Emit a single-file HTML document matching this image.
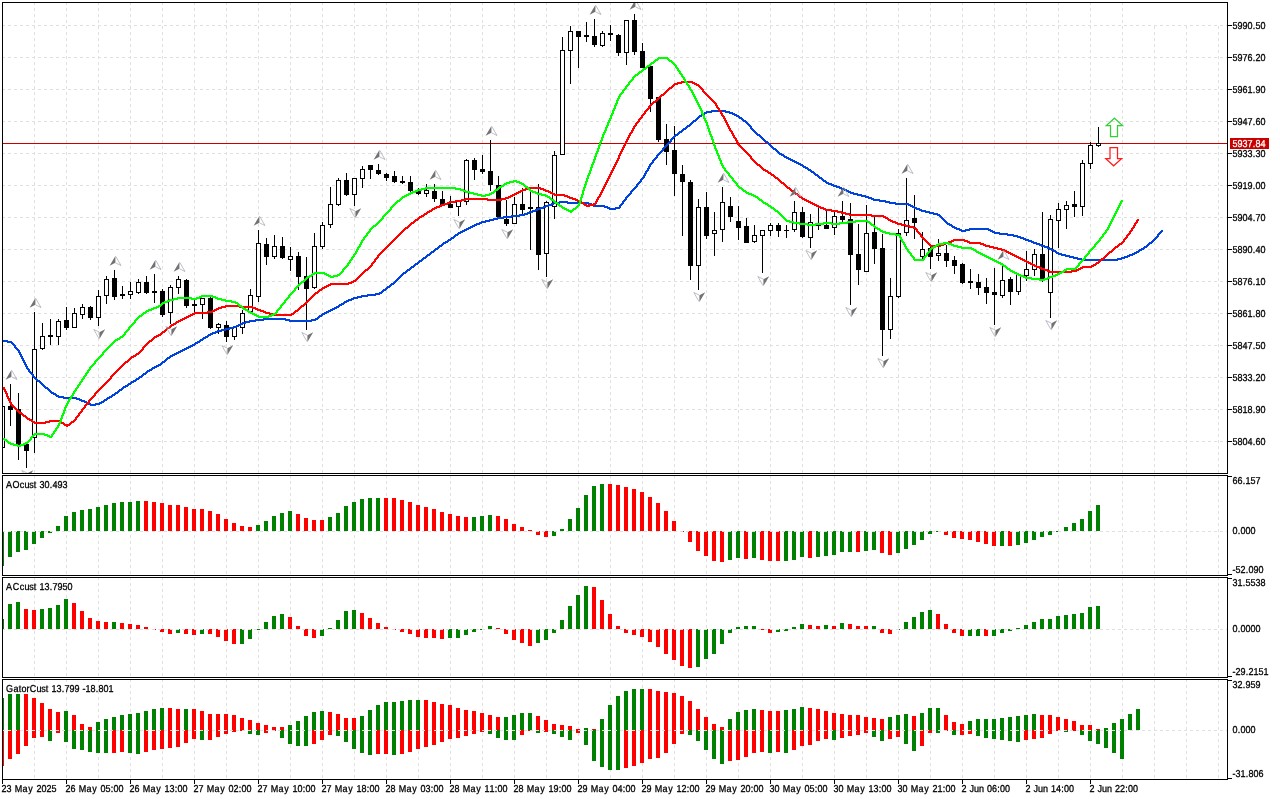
<!DOCTYPE html>
<html lang="en"><head><meta charset="utf-8"><title>Chart</title>
<style>html,body{margin:0;padding:0;background:#fff;overflow:hidden}svg{display:block}text{font-family:"Liberation Sans",sans-serif;font-size:10px;text-rendering:geometricPrecision}</style>
</head><body>
<svg width="1280" height="800" viewBox="0 0 1280 800" shape-rendering="crispEdges">
<rect x="0" y="0" width="1280" height="800" fill="#fff"/>
<defs>
<clipPath id="cpm"><rect x="3" y="3" width="1224" height="470"/></clipPath>
<clipPath id="cpa"><rect x="3" y="476" width="1224" height="99"/></clipPath>
<clipPath id="cpb"><rect x="3" y="578" width="1224" height="99"/></clipPath>
<clipPath id="cpc"><rect x="3" y="680" width="1224" height="99"/></clipPath>
</defs>
<g id="grid"><path d="M34.5 2V473M66.5 2V473M98.5 2V473M130.5 2V473M162.5 2V473M194.5 2V473M226.5 2V473M258.5 2V473M290.5 2V473M322.5 2V473M354.5 2V473M386.5 2V473M418.5 2V473M450.5 2V473M482.5 2V473M514.5 2V473M546.5 2V473M578.5 2V473M610.5 2V473M642.5 2V473M674.5 2V473M706.5 2V473M738.5 2V473M770.5 2V473M802.5 2V473M834.5 2V473M866.5 2V473M898.5 2V473M930.5 2V473M962.5 2V473M994.5 2V473M1026.5 2V473M1058.5 2V473M1090.5 2V473M1122.5 2V473M1154.5 26V473M1186.5 26V473M1218.5 26V473" stroke="#e0e0e0" stroke-width="1" stroke-dasharray="3 3" fill="none"/><path d="M34.5 475V575M66.5 475V575M98.5 475V575M130.5 475V575M162.5 475V575M194.5 475V575M226.5 475V575M258.5 475V575M290.5 475V575M322.5 475V575M354.5 475V575M386.5 475V575M418.5 475V575M450.5 475V575M482.5 475V575M514.5 475V575M546.5 475V575M578.5 475V575M610.5 475V575M642.5 475V575M674.5 475V575M706.5 475V575M738.5 475V575M770.5 475V575M802.5 475V575M834.5 475V575M866.5 475V575M898.5 475V575M930.5 475V575M962.5 475V575M994.5 475V575M1026.5 475V575M1058.5 475V575M1090.5 475V575M1122.5 475V575M1154.5 475V575M1186.5 475V575M1218.5 475V575" stroke="#e0e0e0" stroke-width="1" stroke-dasharray="3 3" fill="none"/><path d="M34.5 577V677M66.5 577V677M98.5 577V677M130.5 577V677M162.5 577V677M194.5 577V677M226.5 577V677M258.5 577V677M290.5 577V677M322.5 577V677M354.5 577V677M386.5 577V677M418.5 577V677M450.5 577V677M482.5 577V677M514.5 577V677M546.5 577V677M578.5 577V677M610.5 577V677M642.5 577V677M674.5 577V677M706.5 577V677M738.5 577V677M770.5 577V677M802.5 577V677M834.5 577V677M866.5 577V677M898.5 577V677M930.5 577V677M962.5 577V677M994.5 577V677M1026.5 577V677M1058.5 577V677M1090.5 577V677M1122.5 577V677M1154.5 577V677M1186.5 577V677M1218.5 577V677" stroke="#e0e0e0" stroke-width="1" stroke-dasharray="3 3" fill="none"/><path d="M34.5 679V779M66.5 679V779M98.5 679V779M130.5 679V779M162.5 679V779M194.5 679V779M226.5 679V779M258.5 679V779M290.5 679V779M322.5 679V779M354.5 679V779M386.5 679V779M418.5 679V779M450.5 679V779M482.5 679V779M514.5 679V779M546.5 679V779M578.5 679V779M610.5 679V779M642.5 679V779M674.5 679V779M706.5 679V779M738.5 679V779M770.5 679V779M802.5 679V779M834.5 679V779M866.5 679V779M898.5 679V779M930.5 679V779M962.5 679V779M994.5 679V779M1026.5 679V779M1058.5 679V779M1090.5 679V779M1122.5 679V779M1154.5 679V779M1186.5 679V779M1218.5 679V779" stroke="#e0e0e0" stroke-width="1" stroke-dasharray="3 3" fill="none"/><path d="M2 25.5H1227M2 57.5H1227M2 89.5H1227M2 121.5H1227M2 153.5H1227M2 185.5H1227M2 217.5H1227M2 249.5H1227M2 281.5H1227M2 313.5H1227M2 345.5H1227M2 377.5H1227M2 409.5H1227M2 441.5H1227" stroke="#e0e0e0" stroke-width="1" stroke-dasharray="3 3" fill="none"/></g>
<rect x="3" y="143" width="1224" height="1" fill="#c80000"/>
<g id="candles" clip-path="url(#cpm)">
<path d="M2 406h1V448h-1zM10 384h1V426h-1zM18 393h1V460h-1zM26 444h1V468h-1zM34 312h1V453h-1zM42 323h1V350h-1zM50 319h1V345h-1zM58 319h1V345h-1zM66 307h1V330h-1zM74 308h1V328h-1zM82 304h1V319h-1zM90 306h1V320h-1zM98 290h1V326h-1zM106 276h1V304h-1zM114 270h1V300h-1zM122 286h1V299h-1zM130 282h1V299h-1zM138 279h1V294h-1zM146 276h1V294h-1zM154 274h1V303h-1zM162 289h1V317h-1zM170 285h1V324h-1zM178 276h1V294h-1zM186 279h1V308h-1zM194 300h1V313h-1zM202 298h1V319h-1zM210 297h1V329h-1zM218 323h1V334h-1zM226 321h1V342h-1zM234 327h1V340h-1zM242 310h1V334h-1zM250 289h1V312h-1zM258 230h1V302h-1zM266 238h1V265h-1zM274 235h1V259h-1zM282 237h1V259h-1zM290 247h1V271h-1zM298 252h1V290h-1zM306 257h1V330h-1zM314 233h1V289h-1zM322 222h1V249h-1zM330 187h1V228h-1zM338 178h1V206h-1zM346 173h1V196h-1zM354 178h1V206h-1zM362 166h1V188h-1zM370 165h1V179h-1zM378 164h1V175h-1zM386 173h1V181h-1zM394 171h1V183h-1zM402 176h1V184h-1zM410 176h1V192h-1zM418 188h1V195h-1zM426 184h1V197h-1zM434 184h1V202h-1zM442 191h1V205h-1zM450 196h1V208h-1zM458 201h1V216h-1zM466 159h1V205h-1zM474 158h1V180h-1zM482 155h1V174h-1zM490 140h1V191h-1zM498 176h1V217h-1zM506 200h1V226h-1zM514 197h1V224h-1zM522 188h1V214h-1zM530 192h1V250h-1zM538 184h1V270h-1zM546 201h1V277h-1zM554 151h1V219h-1zM562 37h1V155h-1zM570 26h1V84h-1zM578 31h1V68h-1zM586 22h1V42h-1zM594 19h1V47h-1zM602 31h1V47h-1zM610 25h1V41h-1zM618 34h1V56h-1zM626 20h1V65h-1zM634 14h1V55h-1zM642 43h1V68h-1zM650 66h1V112h-1zM658 97h1V142h-1zM666 124h1V165h-1zM674 126h1V196h-1zM682 165h1V236h-1zM690 180h1V280h-1zM698 199h1V290h-1zM706 192h1V239h-1zM714 212h1V256h-1zM722 187h1V242h-1zM730 197h1V222h-1zM738 206h1V240h-1zM746 218h1V243h-1zM754 225h1V243h-1zM762 230h1V273h-1zM770 223h1V236h-1zM778 223h1V237h-1zM786 225h1V238h-1zM794 201h1V232h-1zM802 207h1V238h-1zM810 214h1V248h-1zM818 208h1V230h-1zM826 211h1V229h-1zM834 212h1V235h-1zM842 201h1V222h-1zM850 203h1V305h-1zM858 224h1V285h-1zM866 205h1V272h-1zM874 217h1V264h-1zM882 234h1V356h-1zM890 278h1V339h-1zM898 229h1V298h-1zM906 178h1V236h-1zM914 195h1V239h-1zM922 232h1V259h-1zM930 246h1V269h-1zM938 239h1V261h-1zM946 245h1V267h-1zM954 256h1V274h-1zM962 263h1V284h-1zM970 269h1V289h-1zM978 274h1V295h-1zM986 278h1V304h-1zM994 268h1V325h-1zM1002 264h1V298h-1zM1010 277h1V305h-1zM1018 273h1V295h-1zM1026 251h1V281h-1zM1034 249h1V276h-1zM1042 212h1V282h-1zM1050 215h1V318h-1zM1058 203h1V248h-1zM1066 201h1V229h-1zM1074 191h1V217h-1zM1082 160h1V216h-1zM1090 142h1V169h-1zM1098 127h1V147h-1z" fill="#000"/>
<path d="M0 406h5V448h-5zM8 406h5V410h-5zM16 409h5V445h-5zM24 444h5V451h-5zM32 349h5V438h-5zM40 336h5V349h-5zM48 335h5V337h-5zM56 321h5V337h-5zM64 320h5V328h-5zM72 313h5V328h-5zM80 307h5V315h-5zM88 307h5V318h-5zM96 296h5V318h-5zM104 279h5V296h-5zM112 278h5V297h-5zM120 294h5V296h-5zM128 291h5V295h-5zM136 282h5V293h-5zM144 282h5V293h-5zM152 291h5V293h-5zM160 291h5V315h-5zM168 287h5V313h-5zM176 279h5V288h-5zM184 280h5V306h-5zM192 304h5V306h-5zM200 298h5V305h-5zM208 298h5V328h-5zM216 324h5V328h-5zM224 325h5V337h-5zM232 327h5V337h-5zM240 313h5V328h-5zM248 295h5V312h-5zM256 243h5V297h-5zM264 244h5V257h-5zM272 246h5V257h-5zM280 246h5V258h-5zM288 256h5V260h-5zM296 256h5V277h-5zM304 276h5V289h-5zM312 246h5V288h-5zM320 225h5V247h-5zM328 204h5V225h-5zM336 180h5V205h-5zM344 180h5V195h-5zM352 178h5V195h-5zM360 169h5V179h-5zM368 165h5V170h-5zM376 170h5V174h-5zM384 174h5V178h-5zM392 176h5V182h-5zM400 181h5V183h-5zM408 182h5V191h-5zM416 191h5V194h-5zM424 190h5V194h-5zM432 191h5V199h-5zM440 199h5V205h-5zM448 204h5V208h-5zM456 201h5V207h-5zM464 160h5V202h-5zM472 160h5V170h-5zM480 169h5V172h-5zM488 171h5V185h-5zM496 185h5V217h-5zM504 219h5V224h-5zM512 204h5V224h-5zM520 204h5V210h-5zM528 207h5V209h-5zM536 207h5V255h-5zM544 202h5V254h-5zM552 155h5V207h-5zM560 50h5V155h-5zM568 31h5V51h-5zM576 31h5V37h-5zM584 35h5V37h-5zM592 36h5V45h-5zM600 33h5V46h-5zM608 33h5V35h-5zM616 35h5V53h-5zM624 20h5V53h-5zM632 20h5V52h-5zM640 51h5V68h-5zM648 66h5V99h-5zM656 97h5V140h-5zM664 139h5V152h-5zM672 150h5V174h-5zM680 174h5V182h-5zM688 182h5V266h-5zM696 207h5V266h-5zM704 207h5V236h-5zM712 230h5V234h-5zM720 202h5V230h-5zM728 206h5V217h-5zM736 221h5V228h-5zM744 226h5V243h-5zM752 235h5V242h-5zM760 230h5V236h-5zM768 225h5V231h-5zM776 225h5V231h-5zM784 230h5V231h-5zM792 212h5V230h-5zM800 212h5V237h-5zM808 222h5V238h-5zM816 224h5V226h-5zM824 225h5V229h-5zM832 216h5V228h-5zM840 216h5V220h-5zM848 219h5V255h-5zM856 254h5V270h-5zM864 233h5V272h-5zM872 232h5V249h-5zM880 248h5V330h-5zM888 296h5V330h-5zM896 233h5V297h-5zM904 220h5V233h-5zM912 218h5V223h-5zM920 249h5V257h-5zM928 248h5V257h-5zM936 253h5V256h-5zM944 253h5V261h-5zM952 260h5V266h-5zM960 264h5V283h-5zM968 281h5V283h-5zM976 282h5V288h-5zM984 287h5V293h-5zM992 292h5V295h-5zM1000 280h5V296h-5zM1008 279h5V292h-5zM1016 274h5V292h-5zM1024 269h5V276h-5zM1032 254h5V270h-5zM1040 254h5V279h-5zM1048 219h5V293h-5zM1056 209h5V221h-5zM1064 205h5V210h-5zM1072 204h5V207h-5zM1080 163h5V207h-5zM1088 145h5V164h-5zM1096 143h5V146h-5z" fill="#000"/>
<path d="M1 407h3V447h-3zM33 350h3V437h-3zM41 337h3V348h-3zM57 322h3V336h-3zM73 314h3V327h-3zM81 308h3V314h-3zM97 297h3V317h-3zM105 280h3V295h-3zM129 292h3V294h-3zM137 283h3V292h-3zM169 288h3V312h-3zM177 280h3V287h-3zM201 299h3V304h-3zM217 325h3V327h-3zM233 328h3V336h-3zM241 314h3V327h-3zM249 296h3V311h-3zM257 244h3V296h-3zM273 247h3V256h-3zM289 257h3V259h-3zM313 247h3V287h-3zM321 226h3V246h-3zM329 205h3V224h-3zM337 181h3V204h-3zM353 179h3V194h-3zM361 170h3V178h-3zM425 191h3V193h-3zM457 202h3V206h-3zM465 161h3V201h-3zM513 205h3V223h-3zM545 203h3V253h-3zM553 156h3V206h-3zM561 51h3V154h-3zM569 32h3V50h-3zM601 34h3V45h-3zM625 21h3V52h-3zM697 208h3V265h-3zM713 231h3V233h-3zM721 203h3V229h-3zM753 236h3V241h-3zM761 231h3V235h-3zM769 226h3V230h-3zM793 213h3V229h-3zM809 223h3V237h-3zM833 217h3V227h-3zM865 234h3V271h-3zM889 297h3V329h-3zM897 234h3V296h-3zM905 221h3V232h-3zM921 250h3V256h-3zM937 254h3V255h-3zM1001 281h3V295h-3zM1017 275h3V291h-3zM1025 270h3V275h-3zM1033 255h3V269h-3zM1049 220h3V292h-3zM1057 210h3V220h-3zM1065 206h3V209h-3zM1081 164h3V206h-3zM1089 146h3V163h-3zM1097 144h3V145h-3z" fill="#fff"/>
</g>
<g id="alligator" clip-path="url(#cpm)">
<path d="M711 110h15v1h-15zM706 111h24v1h-24zM704 112h8v1h-8zM725 112h8v1h-8zM703 113h4v1h-4zM729 113h6v1h-6zM701 114h4v1h-4zM732 114h5v1h-5zM699 115h5v1h-5zM734 115h5v1h-5zM698 116h4v1h-4zM736 116h4v1h-4zM697 117h3v1h-3zM738 117h4v1h-4zM696 118h3v1h-3zM739 118h4v1h-4zM695 119h3v1h-3zM741 119h3v1h-3zM693 120h4v1h-4zM742 120h4v1h-4zM692 121h4v1h-4zM743 121h4v1h-4zM691 122h3v1h-3zM745 122h3v1h-3zM690 123h3v1h-3zM746 123h3v1h-3zM689 124h3v1h-3zM747 124h3v1h-3zM687 125h4v1h-4zM748 125h3v1h-3zM686 126h4v1h-4zM749 126h3v1h-3zM685 127h3v1h-3zM750 127h2v1h-2zM683 128h4v1h-4zM750 128h3v1h-3zM682 129h4v1h-4zM751 129h3v1h-3zM681 130h3v1h-3zM752 130h3v1h-3zM679 131h4v1h-4zM753 131h3v1h-3zM678 132h4v1h-4zM754 132h3v1h-3zM677 133h3v1h-3zM755 133h3v1h-3zM675 134h4v1h-4zM756 134h4v1h-4zM674 135h4v1h-4zM757 135h4v1h-4zM673 136h3v1h-3zM759 136h3v1h-3zM672 137h3v1h-3zM760 137h3v1h-3zM671 138h3v1h-3zM761 138h3v1h-3zM670 139h3v1h-3zM762 139h3v1h-3zM670 140h2v1h-2zM763 140h3v1h-3zM669 141h3v1h-3zM764 141h4v1h-4zM668 142h3v1h-3zM765 142h4v1h-4zM667 143h3v1h-3zM767 143h3v1h-3zM666 144h3v1h-3zM768 144h3v1h-3zM665 145h3v1h-3zM769 145h3v1h-3zM664 146h3v1h-3zM770 146h3v1h-3zM663 147h3v1h-3zM771 147h3v1h-3zM662 148h3v1h-3zM772 148h4v1h-4zM662 149h2v1h-2zM773 149h4v1h-4zM661 150h3v1h-3zM775 150h3v1h-3zM660 151h3v1h-3zM776 151h3v1h-3zM659 152h3v1h-3zM777 152h3v1h-3zM658 153h3v1h-3zM778 153h4v1h-4zM657 154h3v1h-3zM779 154h5v1h-5zM656 155h3v1h-3zM781 155h4v1h-4zM656 156h2v1h-2zM783 156h4v1h-4zM655 157h3v1h-3zM784 157h5v1h-5zM654 158h3v1h-3zM786 158h5v1h-5zM653 159h3v1h-3zM788 159h5v1h-5zM652 160h3v1h-3zM790 160h5v1h-5zM652 161h2v1h-2zM792 161h5v1h-5zM651 162h3v1h-3zM794 162h5v1h-5zM650 163h3v1h-3zM796 163h5v1h-5zM649 164h3v1h-3zM798 164h5v1h-5zM649 165h2v1h-2zM800 165h4v1h-4zM648 166h3v1h-3zM802 166h4v1h-4zM648 167h2v1h-2zM803 167h5v1h-5zM647 168h3v1h-3zM805 168h4v1h-4zM647 169h2v1h-2zM807 169h4v1h-4zM646 170h3v1h-3zM808 170h4v1h-4zM645 171h3v1h-3zM810 171h4v1h-4zM645 172h2v1h-2zM811 172h4v1h-4zM644 173h3v1h-3zM813 173h3v1h-3zM644 174h2v1h-2zM814 174h4v1h-4zM643 175h3v1h-3zM815 175h4v1h-4zM643 176h2v1h-2zM817 176h3v1h-3zM642 177h3v1h-3zM818 177h4v1h-4zM641 178h3v1h-3zM819 178h4v1h-4zM640 179h3v1h-3zM821 179h3v1h-3zM640 180h2v1h-2zM822 180h4v1h-4zM639 181h3v1h-3zM823 181h4v1h-4zM638 182h3v1h-3zM825 182h4v1h-4zM637 183h3v1h-3zM826 183h6v1h-6zM636 184h3v1h-3zM828 184h6v1h-6zM636 185h2v1h-2zM831 185h6v1h-6zM635 186h3v1h-3zM833 186h7v1h-7zM634 187h3v1h-3zM836 187h6v1h-6zM633 188h3v1h-3zM839 188h6v1h-6zM632 189h3v1h-3zM841 189h6v1h-6zM631 190h3v1h-3zM844 190h5v1h-5zM630 191h3v1h-3zM846 191h5v1h-5zM630 192h2v1h-2zM848 192h6v1h-6zM629 193h3v1h-3zM850 193h8v1h-8zM628 194h3v1h-3zM853 194h9v1h-9zM627 195h3v1h-3zM857 195h9v1h-9zM626 196h3v1h-3zM861 196h8v1h-8zM625 197h3v1h-3zM865 197h7v1h-7zM625 198h2v1h-2zM868 198h6v1h-6zM624 199h3v1h-3zM871 199h9v1h-9zM623 200h3v1h-3zM873 200h13v1h-13zM559 201h9v1h-9zM622 201h3v1h-3zM879 201h11v1h-11zM553 202h36v1h-36zM622 202h2v1h-2zM885 202h11v1h-11zM551 203h9v1h-9zM567 203h25v1h-25zM621 203h3v1h-3zM889 203h20v1h-20zM548 204h6v1h-6zM588 204h6v1h-6zM620 204h3v1h-3zM895 204h16v1h-16zM545 205h7v1h-7zM591 205h14v1h-14zM619 205h3v1h-3zM908 205h5v1h-5zM543 206h6v1h-6zM593 206h15v1h-15zM619 206h2v1h-2zM910 206h5v1h-5zM540 207h6v1h-6zM604 207h6v1h-6zM615 207h6v1h-6zM912 207h5v1h-5zM537 208h7v1h-7zM607 208h13v1h-13zM914 208h6v1h-6zM535 209h6v1h-6zM609 209h7v1h-7zM916 209h6v1h-6zM532 210h6v1h-6zM919 210h7v1h-7zM529 211h7v1h-7zM921 211h9v1h-9zM527 212h6v1h-6zM925 212h9v1h-9zM524 213h6v1h-6zM929 213h9v1h-9zM519 214h9v1h-9zM933 214h7v1h-7zM511 215h14v1h-14zM937 215h4v1h-4zM503 216h17v1h-17zM939 216h3v1h-3zM497 217h15v1h-15zM940 217h3v1h-3zM493 218h11v1h-11zM941 218h3v1h-3zM489 219h9v1h-9zM942 219h3v1h-3zM485 220h9v1h-9zM943 220h3v1h-3zM481 221h9v1h-9zM944 221h3v1h-3zM479 222h7v1h-7zM945 222h3v1h-3zM476 223h6v1h-6zM946 223h4v1h-4zM474 224h6v1h-6zM947 224h5v1h-5zM472 225h5v1h-5zM949 225h4v1h-4zM470 226h5v1h-5zM951 226h4v1h-4zM468 227h5v1h-5zM952 227h5v1h-5zM466 228h5v1h-5zM954 228h6v1h-6zM969 228h20v1h-20zM464 229h5v1h-5zM956 229h6v1h-6zM965 229h26v1h-26zM462 230h5v1h-5zM959 230h11v1h-11zM988 230h5v1h-5zM1161 230h2v1h-2zM460 231h5v1h-5zM961 231h5v1h-5zM990 231h5v1h-5zM1160 231h3v1h-3zM458 232h5v1h-5zM992 232h8v1h-8zM1159 232h3v1h-3zM457 233h4v1h-4zM994 233h14v1h-14zM1158 233h3v1h-3zM455 234h4v1h-4zM999 234h15v1h-15zM1157 234h3v1h-3zM454 235h4v1h-4zM1007 235h11v1h-11zM1157 235h2v1h-2zM453 236h3v1h-3zM1013 236h8v1h-8zM1156 236h3v1h-3zM451 237h4v1h-4zM1017 237h7v1h-7zM1155 237h3v1h-3zM450 238h4v1h-4zM1020 238h6v1h-6zM1154 238h3v1h-3zM448 239h4v1h-4zM1023 239h6v1h-6zM1153 239h3v1h-3zM447 240h4v1h-4zM1025 240h7v1h-7zM1152 240h3v1h-3zM445 241h4v1h-4zM1028 241h6v1h-6zM1151 241h3v1h-3zM443 242h5v1h-5zM1031 242h6v1h-6zM1149 242h4v1h-4zM442 243h4v1h-4zM1033 243h7v1h-7zM1148 243h4v1h-4zM441 244h3v1h-3zM1036 244h6v1h-6zM1147 244h3v1h-3zM439 245h4v1h-4zM1039 245h6v1h-6zM1146 245h3v1h-3zM438 246h4v1h-4zM1041 246h7v1h-7zM1144 246h4v1h-4zM437 247h3v1h-3zM1044 247h6v1h-6zM1143 247h4v1h-4zM435 248h4v1h-4zM1047 248h5v1h-5zM1141 248h4v1h-4zM434 249h4v1h-4zM1049 249h5v1h-5zM1139 249h5v1h-5zM433 250h3v1h-3zM1051 250h5v1h-5zM1138 250h4v1h-4zM431 251h4v1h-4zM1053 251h4v1h-4zM1136 251h4v1h-4zM430 252h4v1h-4zM1055 252h4v1h-4zM1134 252h5v1h-5zM429 253h3v1h-3zM1056 253h6v1h-6zM1132 253h5v1h-5zM427 254h4v1h-4zM1058 254h8v1h-8zM1129 254h6v1h-6zM426 255h4v1h-4zM1061 255h9v1h-9zM1127 255h6v1h-6zM425 256h3v1h-3zM1065 256h9v1h-9zM1124 256h6v1h-6zM423 257h4v1h-4zM1069 257h9v1h-9zM1121 257h7v1h-7zM422 258h4v1h-4zM1073 258h9v1h-9zM1117 258h8v1h-8zM421 259h3v1h-3zM1077 259h45v1h-45zM419 260h4v1h-4zM1081 260h37v1h-37zM418 261h4v1h-4zM417 262h3v1h-3zM415 263h4v1h-4zM414 264h4v1h-4zM413 265h3v1h-3zM411 266h4v1h-4zM410 267h4v1h-4zM409 268h3v1h-3zM407 269h4v1h-4zM406 270h4v1h-4zM405 271h3v1h-3zM403 272h4v1h-4zM402 273h4v1h-4zM401 274h3v1h-3zM400 275h3v1h-3zM399 276h3v1h-3zM398 277h3v1h-3zM397 278h3v1h-3zM396 279h3v1h-3zM395 280h3v1h-3zM394 281h3v1h-3zM393 282h3v1h-3zM391 283h4v1h-4zM390 284h4v1h-4zM389 285h3v1h-3zM387 286h4v1h-4zM386 287h4v1h-4zM385 288h3v1h-3zM383 289h4v1h-4zM382 290h4v1h-4zM381 291h3v1h-3zM379 292h4v1h-4zM375 293h7v1h-7zM367 294h13v1h-13zM361 295h15v1h-15zM357 296h11v1h-11zM353 297h9v1h-9zM351 298h7v1h-7zM348 299h6v1h-6zM346 300h6v1h-6zM344 301h5v1h-5zM343 302h4v1h-4zM341 303h4v1h-4zM339 304h5v1h-5zM338 305h4v1h-4zM336 306h4v1h-4zM334 307h5v1h-5zM332 308h5v1h-5zM330 309h5v1h-5zM328 310h5v1h-5zM326 311h5v1h-5zM324 312h5v1h-5zM322 313h5v1h-5zM321 314h4v1h-4zM319 315h4v1h-4zM318 316h4v1h-4zM317 317h3v1h-3zM263 318h23v1h-23zM315 318h4v1h-4zM255 319h35v1h-35zM311 319h7v1h-7zM249 320h15v1h-15zM285 320h31v1h-31zM245 321h11v1h-11zM289 321h23v1h-23zM242 322h8v1h-8zM240 323h6v1h-6zM238 324h5v1h-5zM236 325h5v1h-5zM233 326h6v1h-6zM229 327h8v1h-8zM225 328h9v1h-9zM221 329h9v1h-9zM217 330h9v1h-9zM215 331h7v1h-7zM212 332h6v1h-6zM210 333h6v1h-6zM208 334h5v1h-5zM207 335h4v1h-4zM205 336h4v1h-4zM203 337h5v1h-5zM202 338h4v1h-4zM200 339h4v1h-4zM3 340h5v1h-5zM199 340h4v1h-4zM3 341h9v1h-9zM197 341h4v1h-4zM7 342h6v1h-6zM195 342h5v1h-5zM11 343h3v1h-3zM194 343h4v1h-4zM12 344h3v1h-3zM192 344h4v1h-4zM13 345h3v1h-3zM190 345h5v1h-5zM14 346h2v1h-2zM188 346h5v1h-5zM14 347h3v1h-3zM186 347h5v1h-5zM15 348h3v1h-3zM184 348h5v1h-5zM16 349h3v1h-3zM182 349h5v1h-5zM17 350h3v1h-3zM180 350h5v1h-5zM18 351h2v1h-2zM178 351h5v1h-5zM18 352h3v1h-3zM176 352h5v1h-5zM19 353h2v1h-2zM174 353h5v1h-5zM19 354h3v1h-3zM172 354h5v1h-5zM20 355h2v1h-2zM170 355h5v1h-5zM20 356h3v1h-3zM169 356h4v1h-4zM21 357h2v1h-2zM167 357h4v1h-4zM21 358h3v1h-3zM166 358h4v1h-4zM22 359h2v1h-2zM165 359h3v1h-3zM22 360h3v1h-3zM164 360h3v1h-3zM23 361h2v1h-2zM162 361h4v1h-4zM23 362h3v1h-3zM161 362h4v1h-4zM24 363h2v1h-2zM160 363h3v1h-3zM24 364h3v1h-3zM158 364h4v1h-4zM25 365h2v1h-2zM156 365h5v1h-5zM25 366h3v1h-3zM154 366h5v1h-5zM26 367h2v1h-2zM152 367h5v1h-5zM26 368h3v1h-3zM151 368h4v1h-4zM27 369h3v1h-3zM149 369h4v1h-4zM28 370h2v1h-2zM147 370h5v1h-5zM28 371h3v1h-3zM146 371h4v1h-4zM29 372h3v1h-3zM145 372h3v1h-3zM30 373h3v1h-3zM143 373h4v1h-4zM31 374h3v1h-3zM142 374h4v1h-4zM32 375h2v1h-2zM141 375h3v1h-3zM32 376h3v1h-3zM139 376h4v1h-4zM33 377h3v1h-3zM138 377h4v1h-4zM34 378h3v1h-3zM136 378h4v1h-4zM35 379h3v1h-3zM135 379h4v1h-4zM36 380h4v1h-4zM133 380h4v1h-4zM37 381h4v1h-4zM131 381h5v1h-5zM39 382h3v1h-3zM130 382h4v1h-4zM40 383h3v1h-3zM128 383h4v1h-4zM41 384h3v1h-3zM127 384h4v1h-4zM42 385h3v1h-3zM125 385h4v1h-4zM43 386h3v1h-3zM123 386h5v1h-5zM44 387h4v1h-4zM122 387h4v1h-4zM45 388h4v1h-4zM121 388h3v1h-3zM47 389h3v1h-3zM119 389h4v1h-4zM48 390h3v1h-3zM118 390h4v1h-4zM49 391h3v1h-3zM117 391h3v1h-3zM50 392h4v1h-4zM115 392h4v1h-4zM51 393h5v1h-5zM114 393h4v1h-4zM53 394h4v1h-4zM112 394h4v1h-4zM55 395h4v1h-4zM111 395h4v1h-4zM56 396h8v1h-8zM109 396h4v1h-4zM58 397h19v1h-19zM107 397h5v1h-5zM63 398h17v1h-17zM106 398h4v1h-4zM76 399h6v1h-6zM104 399h4v1h-4zM79 400h6v1h-6zM103 400h4v1h-4zM81 401h6v1h-6zM101 401h4v1h-4zM84 402h5v1h-5zM99 402h5v1h-5zM86 403h5v1h-5zM95 403h7v1h-7zM88 404h12v1h-12zM90 405h6v1h-6z" fill="#0042dc"/>
<path d="M681 81h12v1h-12zM677 82h18v1h-18zM674 83h8v1h-8zM692 83h5v1h-5zM673 84h5v1h-5zM694 84h5v1h-5zM672 85h3v1h-3zM696 85h4v1h-4zM671 86h3v1h-3zM698 86h3v1h-3zM669 87h4v1h-4zM699 87h3v1h-3zM668 88h4v1h-4zM700 88h3v1h-3zM667 89h3v1h-3zM701 89h3v1h-3zM666 90h3v1h-3zM702 90h2v1h-2zM665 91h3v1h-3zM702 91h3v1h-3zM664 92h3v1h-3zM703 92h3v1h-3zM663 93h3v1h-3zM704 93h3v1h-3zM661 94h4v1h-4zM705 94h3v1h-3zM660 95h4v1h-4zM706 95h3v1h-3zM659 96h3v1h-3zM707 96h3v1h-3zM658 97h3v1h-3zM708 97h3v1h-3zM657 98h3v1h-3zM709 98h3v1h-3zM656 99h3v1h-3zM710 99h3v1h-3zM655 100h3v1h-3zM711 100h3v1h-3zM653 101h4v1h-4zM712 101h3v1h-3zM652 102h4v1h-4zM713 102h3v1h-3zM651 103h3v1h-3zM714 103h3v1h-3zM650 104h3v1h-3zM715 104h2v1h-2zM649 105h3v1h-3zM715 105h3v1h-3zM648 106h3v1h-3zM716 106h2v1h-2zM648 107h2v1h-2zM716 107h3v1h-3zM647 108h3v1h-3zM717 108h3v1h-3zM646 109h3v1h-3zM718 109h2v1h-2zM645 110h3v1h-3zM718 110h3v1h-3zM644 111h3v1h-3zM719 111h3v1h-3zM644 112h2v1h-2zM720 112h2v1h-2zM643 113h3v1h-3zM720 113h3v1h-3zM642 114h3v1h-3zM721 114h2v1h-2zM641 115h3v1h-3zM721 115h3v1h-3zM641 116h2v1h-2zM722 116h3v1h-3zM640 117h3v1h-3zM723 117h2v1h-2zM639 118h3v1h-3zM723 118h3v1h-3zM638 119h3v1h-3zM724 119h2v1h-2zM638 120h2v1h-2zM724 120h3v1h-3zM637 121h3v1h-3zM725 121h2v1h-2zM636 122h3v1h-3zM725 122h3v1h-3zM635 123h3v1h-3zM726 123h2v1h-2zM635 124h2v1h-2zM726 124h3v1h-3zM634 125h3v1h-3zM727 125h2v1h-2zM633 126h3v1h-3zM727 126h3v1h-3zM633 127h2v1h-2zM728 127h2v1h-2zM632 128h3v1h-3zM728 128h3v1h-3zM632 129h2v1h-2zM729 129h2v1h-2zM631 130h3v1h-3zM729 130h3v1h-3zM631 131h2v1h-2zM730 131h3v1h-3zM630 132h3v1h-3zM731 132h2v1h-2zM629 133h3v1h-3zM731 133h3v1h-3zM629 134h2v1h-2zM732 134h2v1h-2zM628 135h3v1h-3zM732 135h3v1h-3zM628 136h2v1h-2zM733 136h2v1h-2zM627 137h3v1h-3zM733 137h3v1h-3zM627 138h2v1h-2zM734 138h3v1h-3zM626 139h3v1h-3zM735 139h2v1h-2zM626 140h2v1h-2zM735 140h3v1h-3zM625 141h3v1h-3zM736 141h2v1h-2zM625 142h2v1h-2zM736 142h3v1h-3zM624 143h3v1h-3zM737 143h2v1h-2zM624 144h2v1h-2zM737 144h3v1h-3zM623 145h3v1h-3zM738 145h3v1h-3zM623 146h2v1h-2zM739 146h3v1h-3zM622 147h3v1h-3zM740 147h3v1h-3zM622 148h2v1h-2zM741 148h3v1h-3zM621 149h3v1h-3zM742 149h3v1h-3zM621 150h2v1h-2zM743 150h3v1h-3zM620 151h3v1h-3zM744 151h3v1h-3zM620 152h2v1h-2zM745 152h3v1h-3zM619 153h3v1h-3zM746 153h3v1h-3zM619 154h2v1h-2zM747 154h3v1h-3zM618 155h3v1h-3zM748 155h3v1h-3zM618 156h2v1h-2zM749 156h3v1h-3zM618 157h2v1h-2zM750 157h2v1h-2zM617 158h3v1h-3zM750 158h3v1h-3zM617 159h2v1h-2zM751 159h3v1h-3zM616 160h3v1h-3zM752 160h3v1h-3zM616 161h2v1h-2zM753 161h3v1h-3zM615 162h3v1h-3zM754 162h3v1h-3zM615 163h2v1h-2zM755 163h3v1h-3zM614 164h3v1h-3zM756 164h4v1h-4zM614 165h2v1h-2zM757 165h4v1h-4zM613 166h3v1h-3zM759 166h3v1h-3zM613 167h2v1h-2zM760 167h3v1h-3zM612 168h3v1h-3zM761 168h3v1h-3zM612 169h2v1h-2zM762 169h4v1h-4zM611 170h3v1h-3zM763 170h5v1h-5zM611 171h2v1h-2zM765 171h4v1h-4zM610 172h3v1h-3zM767 172h4v1h-4zM610 173h2v1h-2zM768 173h4v1h-4zM609 174h3v1h-3zM770 174h4v1h-4zM609 175h2v1h-2zM771 175h4v1h-4zM608 176h3v1h-3zM773 176h3v1h-3zM608 177h2v1h-2zM774 177h4v1h-4zM607 178h3v1h-3zM775 178h4v1h-4zM607 179h2v1h-2zM777 179h3v1h-3zM606 180h3v1h-3zM778 180h3v1h-3zM606 181h2v1h-2zM779 181h3v1h-3zM605 182h3v1h-3zM780 182h4v1h-4zM605 183h2v1h-2zM781 183h4v1h-4zM604 184h3v1h-3zM783 184h3v1h-3zM604 185h2v1h-2zM784 185h3v1h-3zM603 186h3v1h-3zM785 186h3v1h-3zM529 187h12v1h-12zM603 187h2v1h-2zM786 187h4v1h-4zM525 188h19v1h-19zM602 188h3v1h-3zM787 188h4v1h-4zM522 189h8v1h-8zM540 189h6v1h-6zM602 189h2v1h-2zM789 189h3v1h-3zM520 190h6v1h-6zM543 190h6v1h-6zM601 190h3v1h-3zM790 190h4v1h-4zM518 191h5v1h-5zM545 191h6v1h-6zM601 191h2v1h-2zM791 191h4v1h-4zM516 192h5v1h-5zM548 192h5v1h-5zM600 192h3v1h-3zM793 192h3v1h-3zM514 193h5v1h-5zM550 193h5v1h-5zM600 193h2v1h-2zM794 193h4v1h-4zM512 194h5v1h-5zM552 194h13v1h-13zM599 194h3v1h-3zM795 194h4v1h-4zM510 195h5v1h-5zM554 195h14v1h-14zM599 195h2v1h-2zM797 195h3v1h-3zM508 196h5v1h-5zM564 196h6v1h-6zM598 196h3v1h-3zM798 196h4v1h-4zM505 197h6v1h-6zM567 197h6v1h-6zM597 197h3v1h-3zM799 197h4v1h-4zM465 198h23v1h-23zM501 198h8v1h-8zM569 198h7v1h-7zM597 198h2v1h-2zM801 198h4v1h-4zM461 199h45v1h-45zM572 199h6v1h-6zM596 199h3v1h-3zM802 199h5v1h-5zM455 200h11v1h-11zM487 200h15v1h-15zM575 200h5v1h-5zM596 200h2v1h-2zM804 200h5v1h-5zM449 201h13v1h-13zM577 201h5v1h-5zM595 201h3v1h-3zM806 201h5v1h-5zM447 202h9v1h-9zM579 202h5v1h-5zM595 202h2v1h-2zM808 202h5v1h-5zM444 203h6v1h-6zM581 203h4v1h-4zM593 203h4v1h-4zM810 203h5v1h-5zM441 204h7v1h-7zM583 204h4v1h-4zM589 204h7v1h-7zM812 204h5v1h-5zM439 205h6v1h-6zM584 205h10v1h-10zM814 205h5v1h-5zM436 206h6v1h-6zM586 206h4v1h-4zM816 206h5v1h-5zM434 207h6v1h-6zM818 207h6v1h-6zM432 208h5v1h-5zM820 208h6v1h-6zM431 209h4v1h-4zM823 209h9v1h-9zM429 210h4v1h-4zM825 210h13v1h-13zM427 211h5v1h-5zM831 211h11v1h-11zM426 212h4v1h-4zM837 212h9v1h-9zM424 213h4v1h-4zM841 213h9v1h-9zM423 214h4v1h-4zM845 214h27v1h-27zM421 215h4v1h-4zM849 215h35v1h-35zM419 216h5v1h-5zM871 216h15v1h-15zM418 217h4v1h-4zM883 217h5v1h-5zM417 218h3v1h-3zM885 218h4v1h-4zM415 219h4v1h-4zM887 219h4v1h-4zM1137 219h2v1h-2zM414 220h4v1h-4zM888 220h5v1h-5zM1136 220h3v1h-3zM413 221h3v1h-3zM890 221h6v1h-6zM1136 221h2v1h-2zM411 222h4v1h-4zM892 222h6v1h-6zM1135 222h3v1h-3zM410 223h4v1h-4zM895 223h7v1h-7zM1134 223h3v1h-3zM409 224h3v1h-3zM897 224h9v1h-9zM1134 224h2v1h-2zM408 225h3v1h-3zM901 225h9v1h-9zM1133 225h3v1h-3zM407 226h3v1h-3zM905 226h9v1h-9zM1133 226h2v1h-2zM405 227h4v1h-4zM909 227h7v1h-7zM1132 227h3v1h-3zM404 228h4v1h-4zM913 228h4v1h-4zM1131 228h3v1h-3zM403 229h3v1h-3zM915 229h3v1h-3zM1131 229h2v1h-2zM402 230h3v1h-3zM916 230h2v1h-2zM1130 230h3v1h-3zM401 231h3v1h-3zM916 231h3v1h-3zM1129 231h3v1h-3zM400 232h3v1h-3zM917 232h3v1h-3zM1129 232h2v1h-2zM399 233h3v1h-3zM918 233h3v1h-3zM1128 233h3v1h-3zM398 234h3v1h-3zM919 234h3v1h-3zM1127 234h3v1h-3zM397 235h3v1h-3zM920 235h2v1h-2zM1126 235h3v1h-3zM396 236h3v1h-3zM920 236h3v1h-3zM1126 236h2v1h-2zM395 237h3v1h-3zM921 237h3v1h-3zM1125 237h3v1h-3zM394 238h3v1h-3zM922 238h3v1h-3zM1124 238h3v1h-3zM393 239h3v1h-3zM923 239h3v1h-3zM953 239h12v1h-12zM1123 239h3v1h-3zM392 240h3v1h-3zM924 240h3v1h-3zM951 240h17v1h-17zM1123 240h2v1h-2zM391 241h3v1h-3zM925 241h3v1h-3zM948 241h6v1h-6zM964 241h6v1h-6zM1122 241h3v1h-3zM390 242h3v1h-3zM926 242h3v1h-3zM945 242h7v1h-7zM967 242h14v1h-14zM1121 242h3v1h-3zM389 243h3v1h-3zM927 243h3v1h-3zM943 243h6v1h-6zM969 243h15v1h-15zM1119 243h4v1h-4zM388 244h3v1h-3zM928 244h3v1h-3zM940 244h6v1h-6zM980 244h6v1h-6zM1118 244h4v1h-4zM387 245h3v1h-3zM929 245h15v1h-15zM983 245h7v1h-7zM1117 245h3v1h-3zM386 246h3v1h-3zM930 246h11v1h-11zM985 246h9v1h-9zM1115 246h4v1h-4zM385 247h3v1h-3zM989 247h9v1h-9zM1114 247h4v1h-4zM384 248h3v1h-3zM993 248h9v1h-9zM1113 248h3v1h-3zM383 249h3v1h-3zM997 249h8v1h-8zM1112 249h3v1h-3zM382 250h3v1h-3zM1001 250h6v1h-6zM1111 250h3v1h-3zM381 251h3v1h-3zM1004 251h5v1h-5zM1109 251h4v1h-4zM380 252h3v1h-3zM1006 252h5v1h-5zM1108 252h4v1h-4zM379 253h3v1h-3zM1008 253h5v1h-5zM1107 253h3v1h-3zM378 254h3v1h-3zM1010 254h5v1h-5zM1106 254h3v1h-3zM377 255h3v1h-3zM1012 255h5v1h-5zM1105 255h3v1h-3zM377 256h2v1h-2zM1014 256h5v1h-5zM1104 256h3v1h-3zM376 257h3v1h-3zM1016 257h5v1h-5zM1103 257h3v1h-3zM375 258h3v1h-3zM1018 258h5v1h-5zM1101 258h4v1h-4zM374 259h3v1h-3zM1020 259h5v1h-5zM1100 259h4v1h-4zM374 260h2v1h-2zM1022 260h5v1h-5zM1099 260h3v1h-3zM373 261h3v1h-3zM1024 261h5v1h-5zM1098 261h3v1h-3zM372 262h3v1h-3zM1026 262h5v1h-5zM1096 262h4v1h-4zM371 263h3v1h-3zM1028 263h5v1h-5zM1095 263h4v1h-4zM371 264h2v1h-2zM1030 264h5v1h-5zM1093 264h4v1h-4zM370 265h3v1h-3zM1032 265h5v1h-5zM1091 265h5v1h-5zM369 266h3v1h-3zM1034 266h6v1h-6zM1082 266h12v1h-12zM368 267h3v1h-3zM1036 267h6v1h-6zM1080 267h12v1h-12zM367 268h3v1h-3zM1039 268h6v1h-6zM1078 268h5v1h-5zM365 269h4v1h-4zM1041 269h7v1h-7zM1076 269h5v1h-5zM364 270h4v1h-4zM1044 270h6v1h-6zM1071 270h8v1h-8zM363 271h3v1h-3zM1047 271h30v1h-30zM362 272h3v1h-3zM1049 272h23v1h-23zM361 273h3v1h-3zM360 274h3v1h-3zM359 275h3v1h-3zM358 276h3v1h-3zM357 277h3v1h-3zM356 278h3v1h-3zM355 279h3v1h-3zM353 280h4v1h-4zM351 281h5v1h-5zM348 282h6v1h-6zM330 283h22v1h-22zM328 284h21v1h-21zM326 285h5v1h-5zM324 286h5v1h-5zM322 287h5v1h-5zM321 288h4v1h-4zM319 289h4v1h-4zM318 290h4v1h-4zM317 291h3v1h-3zM315 292h4v1h-4zM314 293h4v1h-4zM313 294h3v1h-3zM312 295h3v1h-3zM311 296h3v1h-3zM310 297h3v1h-3zM309 298h3v1h-3zM308 299h3v1h-3zM307 300h3v1h-3zM306 301h3v1h-3zM305 302h3v1h-3zM304 303h3v1h-3zM303 304h3v1h-3zM225 305h15v1h-15zM301 305h4v1h-4zM221 306h32v1h-32zM300 306h4v1h-4zM218 307h8v1h-8zM239 307h17v1h-17zM299 307h3v1h-3zM216 308h6v1h-6zM252 308h6v1h-6zM298 308h3v1h-3zM214 309h5v1h-5zM255 309h6v1h-6zM297 309h3v1h-3zM212 310h5v1h-5zM257 310h7v1h-7zM295 310h4v1h-4zM207 311h8v1h-8zM260 311h6v1h-6zM294 311h4v1h-4zM194 312h19v1h-19zM263 312h7v1h-7zM293 312h3v1h-3zM192 313h16v1h-16zM265 313h9v1h-9zM291 313h4v1h-4zM190 314h5v1h-5zM269 314h25v1h-25zM188 315h5v1h-5zM273 315h19v1h-19zM186 316h5v1h-5zM184 317h5v1h-5zM182 318h5v1h-5zM180 319h5v1h-5zM178 320h5v1h-5zM176 321h5v1h-5zM175 322h4v1h-4zM173 323h4v1h-4zM171 324h5v1h-5zM170 325h4v1h-4zM169 326h3v1h-3zM167 327h4v1h-4zM166 328h4v1h-4zM165 329h3v1h-3zM164 330h3v1h-3zM162 331h4v1h-4zM161 332h4v1h-4zM160 333h3v1h-3zM158 334h4v1h-4zM156 335h5v1h-5zM154 336h5v1h-5zM153 337h4v1h-4zM152 338h3v1h-3zM151 339h3v1h-3zM149 340h4v1h-4zM148 341h4v1h-4zM147 342h3v1h-3zM146 343h3v1h-3zM145 344h3v1h-3zM144 345h3v1h-3zM143 346h3v1h-3zM142 347h3v1h-3zM142 348h2v1h-2zM141 349h3v1h-3zM140 350h3v1h-3zM139 351h3v1h-3zM138 352h3v1h-3zM136 353h4v1h-4zM135 354h4v1h-4zM133 355h4v1h-4zM131 356h5v1h-5zM130 357h4v1h-4zM129 358h3v1h-3zM128 359h3v1h-3zM127 360h3v1h-3zM125 361h4v1h-4zM124 362h4v1h-4zM123 363h3v1h-3zM122 364h3v1h-3zM121 365h3v1h-3zM120 366h3v1h-3zM119 367h3v1h-3zM118 368h3v1h-3zM117 369h3v1h-3zM116 370h3v1h-3zM115 371h3v1h-3zM114 372h3v1h-3zM113 373h3v1h-3zM112 374h3v1h-3zM111 375h3v1h-3zM110 376h3v1h-3zM110 377h2v1h-2zM109 378h3v1h-3zM108 379h3v1h-3zM107 380h3v1h-3zM106 381h3v1h-3zM105 382h3v1h-3zM104 383h3v1h-3zM103 384h3v1h-3zM102 385h3v1h-3zM101 386h3v1h-3zM3 387h2v1h-2zM100 387h3v1h-3zM3 388h2v1h-2zM99 388h3v1h-3zM3 389h3v1h-3zM98 389h3v1h-3zM4 390h2v1h-2zM97 390h3v1h-3zM4 391h3v1h-3zM96 391h3v1h-3zM5 392h2v1h-2zM95 392h3v1h-3zM5 393h3v1h-3zM94 393h3v1h-3zM6 394h2v1h-2zM94 394h2v1h-2zM6 395h2v1h-2zM93 395h3v1h-3zM6 396h3v1h-3zM92 396h3v1h-3zM7 397h2v1h-2zM91 397h3v1h-3zM7 398h3v1h-3zM90 398h3v1h-3zM8 399h2v1h-2zM89 399h3v1h-3zM8 400h3v1h-3zM88 400h3v1h-3zM9 401h2v1h-2zM88 401h2v1h-2zM9 402h3v1h-3zM87 402h3v1h-3zM10 403h2v1h-2zM86 403h3v1h-3zM10 404h3v1h-3zM85 404h3v1h-3zM11 405h3v1h-3zM84 405h3v1h-3zM12 406h3v1h-3zM84 406h2v1h-2zM13 407h3v1h-3zM83 407h3v1h-3zM14 408h3v1h-3zM82 408h3v1h-3zM15 409h3v1h-3zM81 409h3v1h-3zM16 410h3v1h-3zM81 410h2v1h-2zM17 411h3v1h-3zM80 411h3v1h-3zM18 412h4v1h-4zM79 412h3v1h-3zM19 413h4v1h-4zM78 413h3v1h-3zM21 414h3v1h-3zM78 414h2v1h-2zM22 415h4v1h-4zM77 415h3v1h-3zM23 416h4v1h-4zM76 416h3v1h-3zM25 417h3v1h-3zM75 417h3v1h-3zM26 418h4v1h-4zM75 418h2v1h-2zM27 419h5v1h-5zM74 419h3v1h-3zM29 420h4v1h-4zM49 420h11v1h-11zM73 420h3v1h-3zM31 421h4v1h-4zM45 421h17v1h-17zM71 421h4v1h-4zM32 422h18v1h-18zM59 422h5v1h-5zM70 422h4v1h-4zM34 423h12v1h-12zM61 423h4v1h-4zM69 423h3v1h-3zM63 424h8v1h-8zM64 425h6v1h-6zM66 426h2v1h-2z" fill="#ff0000"/>
<path d="M658 57h10v1h-10zM657 58h12v1h-12zM655 59h4v1h-4zM667 59h3v1h-3zM654 60h4v1h-4zM668 60h4v1h-4zM653 61h3v1h-3zM669 61h4v1h-4zM651 62h4v1h-4zM671 62h3v1h-3zM650 63h4v1h-4zM672 63h3v1h-3zM649 64h3v1h-3zM673 64h3v1h-3zM647 65h4v1h-4zM674 65h3v1h-3zM646 66h4v1h-4zM675 66h2v1h-2zM645 67h3v1h-3zM675 67h3v1h-3zM643 68h4v1h-4zM676 68h3v1h-3zM642 69h4v1h-4zM677 69h2v1h-2zM641 70h3v1h-3zM677 70h3v1h-3zM639 71h4v1h-4zM678 71h3v1h-3zM638 72h4v1h-4zM679 72h2v1h-2zM637 73h3v1h-3zM679 73h3v1h-3zM635 74h4v1h-4zM680 74h3v1h-3zM634 75h4v1h-4zM681 75h2v1h-2zM633 76h3v1h-3zM681 76h3v1h-3zM632 77h3v1h-3zM682 77h3v1h-3zM632 78h2v1h-2zM683 78h2v1h-2zM631 79h3v1h-3zM683 79h3v1h-3zM630 80h3v1h-3zM684 80h2v1h-2zM629 81h3v1h-3zM684 81h3v1h-3zM628 82h3v1h-3zM685 82h3v1h-3zM628 83h2v1h-2zM686 83h2v1h-2zM627 84h3v1h-3zM686 84h3v1h-3zM626 85h3v1h-3zM687 85h3v1h-3zM625 86h3v1h-3zM688 86h2v1h-2zM625 87h2v1h-2zM688 87h3v1h-3zM624 88h3v1h-3zM689 88h2v1h-2zM623 89h3v1h-3zM689 89h3v1h-3zM622 90h3v1h-3zM690 90h3v1h-3zM622 91h2v1h-2zM691 91h2v1h-2zM621 92h3v1h-3zM691 92h3v1h-3zM620 93h3v1h-3zM692 93h2v1h-2zM619 94h3v1h-3zM692 94h3v1h-3zM619 95h2v1h-2zM693 95h2v1h-2zM618 96h3v1h-3zM693 96h3v1h-3zM618 97h2v1h-2zM694 97h2v1h-2zM617 98h3v1h-3zM694 98h3v1h-3zM617 99h2v1h-2zM695 99h2v1h-2zM616 100h3v1h-3zM695 100h3v1h-3zM616 101h2v1h-2zM696 101h2v1h-2zM616 102h2v1h-2zM696 102h3v1h-3zM615 103h3v1h-3zM697 103h2v1h-2zM615 104h2v1h-2zM697 104h3v1h-3zM614 105h3v1h-3zM698 105h2v1h-2zM614 106h2v1h-2zM698 106h3v1h-3zM614 107h2v1h-2zM699 107h2v1h-2zM613 108h3v1h-3zM699 108h3v1h-3zM613 109h2v1h-2zM700 109h2v1h-2zM612 110h3v1h-3zM700 110h3v1h-3zM612 111h2v1h-2zM701 111h2v1h-2zM612 112h2v1h-2zM701 112h2v1h-2zM611 113h3v1h-3zM701 113h3v1h-3zM611 114h2v1h-2zM702 114h2v1h-2zM610 115h3v1h-3zM702 115h3v1h-3zM610 116h2v1h-2zM703 116h2v1h-2zM610 117h2v1h-2zM703 117h2v1h-2zM609 118h3v1h-3zM703 118h3v1h-3zM609 119h2v1h-2zM704 119h2v1h-2zM608 120h3v1h-3zM704 120h3v1h-3zM608 121h2v1h-2zM705 121h2v1h-2zM607 122h3v1h-3zM705 122h3v1h-3zM607 123h2v1h-2zM706 123h2v1h-2zM607 124h2v1h-2zM706 124h2v1h-2zM606 125h3v1h-3zM706 125h3v1h-3zM606 126h2v1h-2zM707 126h2v1h-2zM605 127h3v1h-3zM707 127h2v1h-2zM605 128h2v1h-2zM707 128h3v1h-3zM605 129h2v1h-2zM708 129h2v1h-2zM604 130h3v1h-3zM708 130h2v1h-2zM604 131h2v1h-2zM708 131h3v1h-3zM603 132h3v1h-3zM709 132h2v1h-2zM603 133h2v1h-2zM709 133h2v1h-2zM602 134h3v1h-3zM709 134h3v1h-3zM602 135h2v1h-2zM710 135h2v1h-2zM602 136h2v1h-2zM710 136h3v1h-3zM601 137h3v1h-3zM711 137h2v1h-2zM601 138h2v1h-2zM711 138h2v1h-2zM601 139h2v1h-2zM711 139h3v1h-3zM600 140h3v1h-3zM712 140h2v1h-2zM600 141h2v1h-2zM712 141h2v1h-2zM599 142h3v1h-3zM712 142h3v1h-3zM599 143h2v1h-2zM713 143h2v1h-2zM599 144h2v1h-2zM713 144h2v1h-2zM598 145h3v1h-3zM713 145h3v1h-3zM598 146h2v1h-2zM714 146h2v1h-2zM598 147h2v1h-2zM714 147h2v1h-2zM597 148h3v1h-3zM714 148h3v1h-3zM597 149h2v1h-2zM715 149h2v1h-2zM597 150h2v1h-2zM715 150h3v1h-3zM596 151h3v1h-3zM716 151h2v1h-2zM596 152h2v1h-2zM716 152h2v1h-2zM595 153h3v1h-3zM716 153h3v1h-3zM595 154h2v1h-2zM717 154h2v1h-2zM595 155h2v1h-2zM717 155h3v1h-3zM594 156h3v1h-3zM718 156h2v1h-2zM594 157h2v1h-2zM718 157h2v1h-2zM594 158h2v1h-2zM718 158h3v1h-3zM593 159h3v1h-3zM719 159h2v1h-2zM593 160h2v1h-2zM719 160h3v1h-3zM593 161h2v1h-2zM720 161h2v1h-2zM592 162h3v1h-3zM720 162h2v1h-2zM592 163h2v1h-2zM720 163h3v1h-3zM591 164h3v1h-3zM721 164h2v1h-2zM591 165h2v1h-2zM721 165h3v1h-3zM591 166h2v1h-2zM722 166h2v1h-2zM590 167h3v1h-3zM722 167h3v1h-3zM590 168h2v1h-2zM723 168h3v1h-3zM590 169h2v1h-2zM724 169h2v1h-2zM589 170h3v1h-3zM724 170h3v1h-3zM589 171h2v1h-2zM725 171h3v1h-3zM589 172h2v1h-2zM726 172h3v1h-3zM588 173h3v1h-3zM727 173h3v1h-3zM588 174h2v1h-2zM728 174h2v1h-2zM587 175h3v1h-3zM728 175h3v1h-3zM587 176h2v1h-2zM729 176h3v1h-3zM587 177h2v1h-2zM730 177h3v1h-3zM586 178h3v1h-3zM731 178h3v1h-3zM586 179h2v1h-2zM732 179h2v1h-2zM513 180h4v1h-4zM586 180h2v1h-2zM732 180h3v1h-3zM509 181h11v1h-11zM585 181h3v1h-3zM733 181h3v1h-3zM506 182h8v1h-8zM516 182h6v1h-6zM585 182h2v1h-2zM734 182h3v1h-3zM504 183h6v1h-6zM519 183h5v1h-5zM585 183h2v1h-2zM735 183h3v1h-3zM503 184h4v1h-4zM521 184h4v1h-4zM584 184h3v1h-3zM736 184h2v1h-2zM501 185h4v1h-4zM523 185h3v1h-3zM584 185h2v1h-2zM736 185h3v1h-3zM499 186h5v1h-5zM524 186h4v1h-4zM584 186h2v1h-2zM737 186h3v1h-3zM425 187h31v1h-31zM498 187h4v1h-4zM525 187h4v1h-4zM583 187h3v1h-3zM738 187h4v1h-4zM421 188h40v1h-40zM497 188h3v1h-3zM527 188h3v1h-3zM583 188h2v1h-2zM739 188h4v1h-4zM417 189h9v1h-9zM455 189h9v1h-9zM495 189h4v1h-4zM528 189h3v1h-3zM583 189h2v1h-2zM741 189h3v1h-3zM415 190h7v1h-7zM460 190h6v1h-6zM494 190h4v1h-4zM529 190h4v1h-4zM582 190h3v1h-3zM742 190h4v1h-4zM412 191h6v1h-6zM463 191h7v1h-7zM493 191h3v1h-3zM530 191h6v1h-6zM582 191h2v1h-2zM743 191h4v1h-4zM410 192h6v1h-6zM465 192h9v1h-9zM491 192h4v1h-4zM532 192h6v1h-6zM582 192h2v1h-2zM745 192h4v1h-4zM408 193h5v1h-5zM469 193h9v1h-9zM489 193h5v1h-5zM535 193h7v1h-7zM582 193h2v1h-2zM746 193h6v1h-6zM406 194h5v1h-5zM473 194h9v1h-9zM485 194h7v1h-7zM537 194h9v1h-9zM581 194h3v1h-3zM748 194h6v1h-6zM404 195h5v1h-5zM477 195h13v1h-13zM541 195h7v1h-7zM581 195h2v1h-2zM751 195h5v1h-5zM402 196h5v1h-5zM481 196h5v1h-5zM545 196h5v1h-5zM581 196h2v1h-2zM753 196h5v1h-5zM401 197h4v1h-4zM547 197h4v1h-4zM580 197h3v1h-3zM755 197h4v1h-4zM400 198h3v1h-3zM549 198h3v1h-3zM580 198h2v1h-2zM757 198h3v1h-3zM399 199h3v1h-3zM550 199h4v1h-4zM580 199h2v1h-2zM758 199h4v1h-4zM397 200h4v1h-4zM551 200h4v1h-4zM579 200h3v1h-3zM759 200h4v1h-4zM1121 200h2v1h-2zM396 201h4v1h-4zM553 201h3v1h-3zM579 201h2v1h-2zM761 201h3v1h-3zM1120 201h3v1h-3zM395 202h3v1h-3zM554 202h4v1h-4zM579 202h2v1h-2zM762 202h4v1h-4zM1120 202h2v1h-2zM394 203h3v1h-3zM555 203h4v1h-4zM578 203h3v1h-3zM763 203h5v1h-5zM1119 203h3v1h-3zM393 204h3v1h-3zM557 204h3v1h-3zM578 204h2v1h-2zM765 204h4v1h-4zM1119 204h2v1h-2zM392 205h3v1h-3zM558 205h4v1h-4zM577 205h3v1h-3zM767 205h4v1h-4zM1118 205h3v1h-3zM391 206h3v1h-3zM559 206h4v1h-4zM576 206h3v1h-3zM768 206h4v1h-4zM1118 206h2v1h-2zM390 207h3v1h-3zM561 207h4v1h-4zM575 207h3v1h-3zM770 207h4v1h-4zM1117 207h3v1h-3zM390 208h2v1h-2zM562 208h5v1h-5zM573 208h4v1h-4zM771 208h4v1h-4zM1117 208h2v1h-2zM389 209h3v1h-3zM564 209h5v1h-5zM572 209h4v1h-4zM773 209h3v1h-3zM1116 209h3v1h-3zM388 210h3v1h-3zM566 210h8v1h-8zM774 210h4v1h-4zM1116 210h2v1h-2zM387 211h3v1h-3zM568 211h5v1h-5zM775 211h4v1h-4zM1115 211h3v1h-3zM386 212h3v1h-3zM570 212h2v1h-2zM777 212h3v1h-3zM1115 212h2v1h-2zM385 213h3v1h-3zM778 213h3v1h-3zM1114 213h3v1h-3zM384 214h3v1h-3zM779 214h3v1h-3zM1114 214h2v1h-2zM383 215h3v1h-3zM780 215h3v1h-3zM1113 215h3v1h-3zM382 216h3v1h-3zM781 216h3v1h-3zM1113 216h2v1h-2zM382 217h2v1h-2zM782 217h3v1h-3zM1112 217h3v1h-3zM381 218h3v1h-3zM783 218h3v1h-3zM1112 218h2v1h-2zM380 219h3v1h-3zM784 219h3v1h-3zM1111 219h3v1h-3zM379 220h3v1h-3zM785 220h5v1h-5zM855 220h13v1h-13zM1111 220h2v1h-2zM378 221h3v1h-3zM786 221h8v1h-8zM847 221h23v1h-23zM1110 221h3v1h-3zM377 222h3v1h-3zM789 222h11v1h-11zM823 222h9v1h-9zM839 222h17v1h-17zM867 222h4v1h-4zM1110 222h2v1h-2zM376 223h3v1h-3zM793 223h15v1h-15zM815 223h33v1h-33zM869 223h3v1h-3zM1109 223h3v1h-3zM375 224h3v1h-3zM799 224h25v1h-25zM831 224h9v1h-9zM870 224h4v1h-4zM1109 224h2v1h-2zM373 225h4v1h-4zM807 225h9v1h-9zM871 225h4v1h-4zM1108 225h3v1h-3zM372 226h4v1h-4zM873 226h3v1h-3zM1108 226h2v1h-2zM371 227h3v1h-3zM874 227h4v1h-4zM1107 227h3v1h-3zM370 228h3v1h-3zM875 228h5v1h-5zM1107 228h2v1h-2zM369 229h3v1h-3zM877 229h4v1h-4zM1106 229h3v1h-3zM369 230h2v1h-2zM879 230h4v1h-4zM1105 230h3v1h-3zM368 231h3v1h-3zM880 231h6v1h-6zM1105 231h2v1h-2zM367 232h3v1h-3zM882 232h8v1h-8zM1104 232h3v1h-3zM366 233h3v1h-3zM885 233h11v1h-11zM1103 233h3v1h-3zM366 234h2v1h-2zM889 234h11v1h-11zM1102 234h3v1h-3zM365 235h3v1h-3zM895 235h6v1h-6zM1102 235h2v1h-2zM364 236h3v1h-3zM899 236h2v1h-2zM1101 236h3v1h-3zM363 237h3v1h-3zM899 237h3v1h-3zM1100 237h3v1h-3zM363 238h2v1h-2zM900 238h2v1h-2zM1099 238h3v1h-3zM362 239h3v1h-3zM900 239h3v1h-3zM1099 239h2v1h-2zM361 240h3v1h-3zM901 240h2v1h-2zM1098 240h3v1h-3zM361 241h2v1h-2zM901 241h3v1h-3zM1097 241h3v1h-3zM360 242h3v1h-3zM902 242h3v1h-3zM943 242h6v1h-6zM1096 242h3v1h-3zM360 243h2v1h-2zM903 243h2v1h-2zM938 243h14v1h-14zM1095 243h3v1h-3zM359 244h3v1h-3zM903 244h3v1h-3zM936 244h8v1h-8zM948 244h6v1h-6zM1094 244h3v1h-3zM359 245h2v1h-2zM904 245h2v1h-2zM935 245h4v1h-4zM951 245h7v1h-7zM1094 245h2v1h-2zM358 246h3v1h-3zM904 246h3v1h-3zM933 246h4v1h-4zM953 246h9v1h-9zM1093 246h3v1h-3zM357 247h3v1h-3zM905 247h2v1h-2zM931 247h5v1h-5zM957 247h15v1h-15zM1092 247h3v1h-3zM357 248h2v1h-2zM905 248h3v1h-3zM930 248h4v1h-4zM961 248h13v1h-13zM1091 248h3v1h-3zM356 249h3v1h-3zM906 249h3v1h-3zM929 249h3v1h-3zM971 249h5v1h-5zM1090 249h3v1h-3zM356 250h2v1h-2zM907 250h2v1h-2zM929 250h2v1h-2zM973 250h4v1h-4zM1089 250h3v1h-3zM355 251h3v1h-3zM907 251h3v1h-3zM928 251h3v1h-3zM975 251h4v1h-4zM1088 251h3v1h-3zM355 252h2v1h-2zM908 252h3v1h-3zM927 252h3v1h-3zM976 252h5v1h-5zM1088 252h2v1h-2zM354 253h3v1h-3zM909 253h3v1h-3zM926 253h3v1h-3zM978 253h5v1h-5zM1087 253h3v1h-3zM353 254h3v1h-3zM910 254h2v1h-2zM926 254h2v1h-2zM980 254h5v1h-5zM1086 254h3v1h-3zM353 255h2v1h-2zM910 255h3v1h-3zM925 255h3v1h-3zM982 255h5v1h-5zM1085 255h3v1h-3zM352 256h3v1h-3zM911 256h3v1h-3zM924 256h3v1h-3zM984 256h5v1h-5zM1084 256h3v1h-3zM351 257h3v1h-3zM912 257h3v1h-3zM923 257h3v1h-3zM986 257h5v1h-5zM1084 257h2v1h-2zM351 258h2v1h-2zM913 258h2v1h-2zM923 258h2v1h-2zM988 258h5v1h-5zM1083 258h3v1h-3zM350 259h3v1h-3zM913 259h12v1h-12zM990 259h5v1h-5zM1082 259h3v1h-3zM349 260h3v1h-3zM914 260h10v1h-10zM992 260h5v1h-5zM1081 260h3v1h-3zM349 261h2v1h-2zM994 261h5v1h-5zM1080 261h3v1h-3zM348 262h3v1h-3zM996 262h5v1h-5zM1079 262h3v1h-3zM347 263h3v1h-3zM998 263h5v1h-5zM1078 263h3v1h-3zM347 264h2v1h-2zM1000 264h4v1h-4zM1078 264h2v1h-2zM346 265h3v1h-3zM1002 265h4v1h-4zM1077 265h3v1h-3zM345 266h3v1h-3zM1003 266h4v1h-4zM1076 266h3v1h-3zM344 267h3v1h-3zM1005 267h3v1h-3zM1075 267h3v1h-3zM343 268h3v1h-3zM1006 268h4v1h-4zM1066 268h11v1h-11zM342 269h3v1h-3zM1007 269h4v1h-4zM1064 269h12v1h-12zM342 270h2v1h-2zM1009 270h4v1h-4zM1063 270h4v1h-4zM341 271h3v1h-3zM1010 271h5v1h-5zM1061 271h4v1h-4zM314 272h11v1h-11zM340 272h3v1h-3zM1012 272h5v1h-5zM1059 272h5v1h-5zM312 273h15v1h-15zM339 273h3v1h-3zM1014 273h5v1h-5zM1057 273h5v1h-5zM311 274h4v1h-4zM324 274h5v1h-5zM337 274h4v1h-4zM1016 274h5v1h-5zM1055 274h5v1h-5zM309 275h4v1h-4zM326 275h5v1h-5zM333 275h7v1h-7zM1018 275h6v1h-6zM1052 275h6v1h-6zM307 276h5v1h-5zM328 276h10v1h-10zM1020 276h6v1h-6zM1049 276h7v1h-7zM306 277h4v1h-4zM330 277h4v1h-4zM1023 277h9v1h-9zM1047 277h6v1h-6zM305 278h3v1h-3zM1025 278h15v1h-15zM1044 278h6v1h-6zM304 279h3v1h-3zM1031 279h17v1h-17zM303 280h3v1h-3zM1039 280h6v1h-6zM301 281h4v1h-4zM300 282h4v1h-4zM299 283h3v1h-3zM298 284h3v1h-3zM297 285h3v1h-3zM296 286h3v1h-3zM295 287h3v1h-3zM294 288h3v1h-3zM294 289h2v1h-2zM293 290h3v1h-3zM292 291h3v1h-3zM291 292h3v1h-3zM290 293h3v1h-3zM289 294h3v1h-3zM201 295h12v1h-12zM288 295h3v1h-3zM199 296h17v1h-17zM288 296h2v1h-2zM177 297h15v1h-15zM196 297h6v1h-6zM212 297h6v1h-6zM287 297h3v1h-3zM173 298h27v1h-27zM215 298h7v1h-7zM286 298h3v1h-3zM169 299h9v1h-9zM191 299h6v1h-6zM217 299h9v1h-9zM285 299h3v1h-3zM167 300h7v1h-7zM221 300h11v1h-11zM284 300h3v1h-3zM164 301h6v1h-6zM225 301h11v1h-11zM284 301h2v1h-2zM162 302h6v1h-6zM231 302h7v1h-7zM283 302h3v1h-3zM161 303h4v1h-4zM235 303h4v1h-4zM282 303h3v1h-3zM160 304h3v1h-3zM237 304h3v1h-3zM281 304h3v1h-3zM158 305h4v1h-4zM238 305h4v1h-4zM280 305h3v1h-3zM156 306h5v1h-5zM239 306h4v1h-4zM280 306h2v1h-2zM153 307h6v1h-6zM241 307h3v1h-3zM279 307h3v1h-3zM151 308h6v1h-6zM242 308h4v1h-4zM278 308h3v1h-3zM148 309h6v1h-6zM243 309h5v1h-5zM277 309h3v1h-3zM146 310h6v1h-6zM245 310h4v1h-4zM276 310h3v1h-3zM145 311h4v1h-4zM247 311h4v1h-4zM276 311h2v1h-2zM143 312h4v1h-4zM248 312h5v1h-5zM275 312h3v1h-3zM142 313h4v1h-4zM250 313h5v1h-5zM273 313h4v1h-4zM141 314h3v1h-3zM252 314h5v1h-5zM271 314h5v1h-5zM139 315h4v1h-4zM254 315h5v1h-5zM268 315h6v1h-6zM138 316h4v1h-4zM256 316h16v1h-16zM137 317h3v1h-3zM258 317h11v1h-11zM136 318h3v1h-3zM135 319h3v1h-3zM134 320h3v1h-3zM134 321h2v1h-2zM133 322h3v1h-3zM132 323h3v1h-3zM131 324h3v1h-3zM130 325h3v1h-3zM129 326h3v1h-3zM128 327h3v1h-3zM128 328h2v1h-2zM127 329h3v1h-3zM126 330h3v1h-3zM125 331h3v1h-3zM124 332h3v1h-3zM124 333h2v1h-2zM123 334h3v1h-3zM122 335h3v1h-3zM120 336h4v1h-4zM119 337h4v1h-4zM117 338h4v1h-4zM115 339h5v1h-5zM114 340h4v1h-4zM113 341h3v1h-3zM112 342h3v1h-3zM111 343h3v1h-3zM110 344h3v1h-3zM109 345h3v1h-3zM108 346h3v1h-3zM107 347h3v1h-3zM106 348h3v1h-3zM105 349h3v1h-3zM104 350h3v1h-3zM103 351h3v1h-3zM102 352h3v1h-3zM102 353h2v1h-2zM101 354h3v1h-3zM100 355h3v1h-3zM99 356h3v1h-3zM98 357h3v1h-3zM97 358h3v1h-3zM96 359h3v1h-3zM95 360h3v1h-3zM94 361h3v1h-3zM94 362h2v1h-2zM93 363h3v1h-3zM92 364h3v1h-3zM91 365h3v1h-3zM90 366h3v1h-3zM89 367h3v1h-3zM89 368h2v1h-2zM88 369h3v1h-3zM87 370h3v1h-3zM87 371h2v1h-2zM86 372h3v1h-3zM85 373h3v1h-3zM85 374h2v1h-2zM84 375h3v1h-3zM83 376h3v1h-3zM83 377h2v1h-2zM82 378h3v1h-3zM81 379h3v1h-3zM81 380h2v1h-2zM80 381h3v1h-3zM79 382h3v1h-3zM79 383h2v1h-2zM78 384h3v1h-3zM77 385h3v1h-3zM77 386h2v1h-2zM76 387h3v1h-3zM75 388h3v1h-3zM75 389h2v1h-2zM74 390h3v1h-3zM73 391h3v1h-3zM73 392h2v1h-2zM72 393h3v1h-3zM72 394h2v1h-2zM71 395h3v1h-3zM70 396h3v1h-3zM70 397h2v1h-2zM69 398h3v1h-3zM68 399h3v1h-3zM68 400h2v1h-2zM67 401h3v1h-3zM67 402h2v1h-2zM66 403h3v1h-3zM66 404h2v1h-2zM65 405h3v1h-3zM65 406h2v1h-2zM64 407h3v1h-3zM64 408h2v1h-2zM64 409h2v1h-2zM63 410h3v1h-3zM63 411h2v1h-2zM63 412h2v1h-2zM62 413h3v1h-3zM62 414h2v1h-2zM61 415h3v1h-3zM61 416h2v1h-2zM61 417h2v1h-2zM60 418h3v1h-3zM60 419h2v1h-2zM60 420h2v1h-2zM59 421h3v1h-3zM59 422h2v1h-2zM58 423h3v1h-3zM58 424h2v1h-2zM57 425h3v1h-3zM57 426h2v1h-2zM56 427h3v1h-3zM55 428h3v1h-3zM55 429h2v1h-2zM54 430h3v1h-3zM53 431h3v1h-3zM53 432h2v1h-2zM34 433h11v1h-11zM52 433h3v1h-3zM33 434h15v1h-15zM51 434h3v1h-3zM32 435h3v1h-3zM44 435h6v1h-6zM51 435h2v1h-2zM31 436h3v1h-3zM47 436h6v1h-6zM30 437h3v1h-3zM49 437h3v1h-3zM3 438h2v1h-2zM30 438h2v1h-2zM3 439h4v1h-4zM29 439h3v1h-3zM4 440h4v1h-4zM28 440h3v1h-3zM6 441h3v1h-3zM27 441h3v1h-3zM7 442h4v1h-4zM25 442h4v1h-4zM8 443h6v1h-6zM23 443h5v1h-5zM10 444h8v1h-8zM20 444h6v1h-6zM13 445h11v1h-11zM17 446h4v1h-4z" fill="#00ff00"/>
</g>
<g id="fractals" clip-path="url(#cpm)" shape-rendering="geometricPrecision">
<path d="M11.4 370L5.6 379.7L11.4 376.8zM35.4 298L29.6 307.7L35.4 304.8zM115.4 256L109.6 265.7L115.4 262.8zM155.4 260L149.6 269.7L155.4 266.8zM179.4 262L173.6 271.7L179.4 268.8zM259.4 216L253.6 225.7L259.4 222.8zM379.4 150L373.6 159.7L379.4 156.8zM435.4 170L429.6 179.7L435.4 176.8zM491.4 126L485.6 135.7L491.4 132.8zM595.4 5L589.6 14.7L595.4 11.8zM635.4 0L629.6 9.7L635.4 6.8zM723.4 173L717.6 182.7L723.4 179.8zM795.4 187L789.6 196.7L795.4 193.8zM843.4 187L837.6 196.7L843.4 193.8zM907.4 164L901.6 173.7L907.4 170.8zM1003.4 250L997.6 259.7L1003.4 256.8zM27.4 480L33.2 470.3L27.4 473.2zM99.4 339L105.2 329.3L99.4 332.2zM171.4 336L177.2 326.3L171.4 329.2zM227.4 355L233.2 345.3L227.4 348.2zM307.4 342L313.2 332.3L307.4 335.2zM355.4 218L361.2 208.3L355.4 211.2zM459.4 229L465.2 219.3L459.4 222.2zM507.4 239L513.2 229.3L507.4 232.2zM547.4 289L553.2 279.3L547.4 282.2zM699.4 302L705.2 292.3L699.4 295.2zM763.4 286L769.2 276.3L763.4 279.2zM811.4 260L817.2 250.3L811.4 253.2zM851.4 317L857.2 307.3L851.4 310.2zM883.4 368L889.2 358.3L883.4 361.2zM931.4 282L937.2 272.3L931.4 275.2zM995.4 337L1001.2 327.3L995.4 330.2zM1051.4 330L1057.2 320.3L1051.4 323.2z" fill="#727272"/>
<path d="M11.7 370.3L17.0 379.5L11.6 376.9M35.7 298.3L41.0 307.5L35.6 304.9M115.7 256.3L121.0 265.5L115.6 262.9M155.7 260.3L161.0 269.5L155.6 266.9M179.7 262.3L185.0 271.5L179.6 268.9M259.7 216.3L265.0 225.5L259.6 222.9M379.7 150.3L385.0 159.5L379.6 156.9M435.7 170.3L441.0 179.5L435.6 176.9M491.7 126.3L497.0 135.5L491.6 132.9M595.7 5.3L601.0 14.5L595.6 11.9M635.7 0.3L641.0 9.5L635.6 6.9M723.7 173.3L729.0 182.5L723.6 179.9M795.7 187.3L801.0 196.5L795.6 193.9M843.7 187.3L849.0 196.5L843.6 193.9M907.7 164.3L913.0 173.5L907.6 170.9M1003.7 250.3L1009.0 259.5L1003.6 256.9M27.1 479.7L21.8 470.5L27.2 473.1M99.1 338.7L93.8 329.5L99.2 332.1M171.1 335.7L165.8 326.5L171.2 329.1M227.1 354.7L221.8 345.5L227.2 348.1M307.1 341.7L301.8 332.5L307.2 335.1M355.1 217.7L349.8 208.5L355.2 211.1M459.1 228.7L453.8 219.5L459.2 222.1M507.1 238.7L501.8 229.5L507.2 232.1M547.1 288.7L541.8 279.5L547.2 282.1M699.1 301.7L693.8 292.5L699.2 295.1M763.1 285.7L757.8 276.5L763.2 279.1M811.1 259.7L805.8 250.5L811.2 253.1M851.1 316.7L845.8 307.5L851.2 310.1M883.1 367.7L877.8 358.5L883.2 361.1M931.1 281.7L925.8 272.5L931.2 275.1M995.1 336.7L989.8 327.5L995.2 330.1M1051.1 329.7L1045.8 320.5L1051.2 323.1" fill="none" stroke="#a8a8b8" stroke-width="0.75"/>
</g>
<g id="signals" shape-rendering="geometricPrecision" fill="none" stroke-width="1">
<path d="M1114.5 118.2 L1122.5 125.5 H1117.5 V136.5 H1110.5 V125.5 H1106.3 Z" stroke="#35cf35" stroke-width="1.25"/>
<path d="M1110 147.5 H1117.5 V158.6 H1121.6 L1113.6 165.8 L1105.8 158.6 H1110 Z" stroke="#ff1c1c" stroke-width="1.25"/>
</g>
<g id="ao" clip-path="url(#cpa)"><path d="M0 531h4V566h-4zM8 531h4V557h-4zM16 531h4V552h-4zM24 531h4V550h-4zM32 531h4V544h-4zM40 531h4V538h-4zM48 531h4V533h-4zM56 526h4V531h-4zM64 516h4V531h-4zM72 512h4V531h-4zM80 510h4V531h-4zM88 509h4V531h-4zM96 507h4V531h-4zM104 505h4V531h-4zM112 503h4V531h-4zM120 502h4V531h-4zM128 502h4V531h-4zM136 501h4V531h-4zM256 525h4V531h-4zM264 521h4V531h-4zM272 516h4V531h-4zM280 513h4V531h-4zM288 511h4V531h-4zM328 517h4V531h-4zM336 513h4V531h-4zM344 506h4V531h-4zM352 502h4V531h-4zM360 499h4V531h-4zM368 498h4V531h-4zM376 498h4V531h-4zM472 517h4V531h-4zM480 516h4V531h-4zM488 515h4V531h-4zM552 531h4V536h-4zM560 529h4V531h-4zM568 519h4V531h-4zM576 508h4V531h-4zM584 495h4V531h-4zM592 486h4V531h-4zM600 484h4V531h-4zM728 531h4V560h-4zM736 531h4V558h-4zM752 531h4V558h-4zM784 531h4V561h-4zM792 531h4V560h-4zM800 531h4V557h-4zM816 531h4V557h-4zM824 531h4V556h-4zM832 531h4V555h-4zM840 531h4V552h-4zM848 531h4V552h-4zM864 531h4V551h-4zM872 531h4V550h-4zM896 531h4V553h-4zM904 531h4V549h-4zM912 531h4V545h-4zM920 531h4V540h-4zM928 531h4V534h-4zM936 531h4V532h-4zM1000 531h4V546h-4zM1016 531h4V545h-4zM1024 531h4V543h-4zM1032 531h4V540h-4zM1040 531h4V537h-4zM1048 531h4V535h-4zM1056 531h4V532h-4zM1064 527h4V531h-4zM1072 523h4V531h-4zM1080 519h4V531h-4zM1088 511h4V531h-4zM1096 505h4V531h-4z" fill="#008000"/><path d="M144 501h4V531h-4zM152 502h4V531h-4zM160 503h4V531h-4zM168 505h4V531h-4zM176 505h4V531h-4zM184 507h4V531h-4zM192 509h4V531h-4zM200 509h4V531h-4zM208 511h4V531h-4zM216 514h4V531h-4zM224 519h4V531h-4zM232 523h4V531h-4zM240 526h4V531h-4zM248 527h4V531h-4zM296 514h4V531h-4zM304 518h4V531h-4zM312 520h4V531h-4zM320 520h4V531h-4zM384 498h4V531h-4zM392 498h4V531h-4zM400 500h4V531h-4zM408 502h4V531h-4zM416 505h4V531h-4zM424 507h4V531h-4zM432 509h4V531h-4zM440 512h4V531h-4zM448 514h4V531h-4zM456 516h4V531h-4zM464 517h4V531h-4zM496 516h4V531h-4zM504 519h4V531h-4zM512 524h4V531h-4zM520 527h4V531h-4zM528 530h4V531h-4zM536 531h4V535h-4zM544 531h4V537h-4zM608 484h4V531h-4zM616 485h4V531h-4zM624 487h4V531h-4zM632 489h4V531h-4zM640 492h4V531h-4zM648 497h4V531h-4zM656 503h4V531h-4zM664 511h4V531h-4zM672 521h4V531h-4zM680 531h4V532h-4zM688 531h4V542h-4zM696 531h4V551h-4zM704 531h4V556h-4zM712 531h4V561h-4zM720 531h4V562h-4zM744 531h4V559h-4zM760 531h4V560h-4zM768 531h4V561h-4zM776 531h4V561h-4zM808 531h4V558h-4zM856 531h4V552h-4zM880 531h4V553h-4zM888 531h4V555h-4zM944 531h4V535h-4zM952 531h4V538h-4zM960 531h4V539h-4zM968 531h4V540h-4zM976 531h4V542h-4zM984 531h4V544h-4zM992 531h4V546h-4zM1008 531h4V546h-4z" fill="#ff0000"/></g>
<g id="ac" clip-path="url(#cpb)"><path d="M0 619h4V629h-4zM8 604h4V629h-4zM16 602h4V629h-4zM40 609h4V629h-4zM48 608h4V629h-4zM56 605h4V629h-4zM64 599h4V629h-4zM112 622h4V629h-4zM176 629h4V633h-4zM200 629h4V634h-4zM240 629h4V644h-4zM248 629h4V639h-4zM256 629h4V630h-4zM264 622h4V629h-4zM272 616h4V629h-4zM280 614h4V629h-4zM320 629h4V636h-4zM328 628h4V629h-4zM336 620h4V629h-4zM344 611h4V629h-4zM352 610h4V629h-4zM448 629h4V638h-4zM456 629h4V638h-4zM464 629h4V635h-4zM472 629h4V632h-4zM480 629h4V630h-4zM488 626h4V629h-4zM536 629h4V643h-4zM544 629h4V640h-4zM552 629h4V633h-4zM560 620h4V629h-4zM568 606h4V629h-4zM576 595h4V629h-4zM584 586h4V629h-4zM696 629h4V667h-4zM704 629h4V659h-4zM712 629h4V654h-4zM720 629h4V644h-4zM728 629h4V633h-4zM736 627h4V629h-4zM744 626h4V629h-4zM752 626h4V629h-4zM776 629h4V632h-4zM784 629h4V631h-4zM792 627h4V629h-4zM800 624h4V629h-4zM824 625h4V629h-4zM840 623h4V629h-4zM872 626h4V629h-4zM896 629h4V630h-4zM904 622h4V629h-4zM912 617h4V629h-4zM920 612h4V629h-4zM928 610h4V629h-4zM968 629h4V636h-4zM976 629h4V636h-4zM992 629h4V636h-4zM1000 629h4V633h-4zM1008 629h4V631h-4zM1016 628h4V629h-4zM1024 625h4V629h-4zM1032 622h4V629h-4zM1040 619h4V629h-4zM1048 619h4V629h-4zM1056 616h4V629h-4zM1064 615h4V629h-4zM1072 614h4V629h-4zM1080 613h4V629h-4zM1088 607h4V629h-4zM1096 606h4V629h-4z" fill="#008000"/><path d="M24 609h4V629h-4zM32 610h4V629h-4zM72 603h4V629h-4zM80 611h4V629h-4zM88 618h4V629h-4zM96 621h4V629h-4zM104 622h4V629h-4zM120 623h4V629h-4zM128 624h4V629h-4zM136 625h4V629h-4zM144 627h4V629h-4zM152 629h4V630h-4zM160 629h4V632h-4zM168 629h4V634h-4zM184 629h4V634h-4zM192 629h4V635h-4zM208 629h4V634h-4zM216 629h4V637h-4zM224 629h4V641h-4zM232 629h4V644h-4zM288 617h4V629h-4zM296 626h4V629h-4zM304 629h4V636h-4zM312 629h4V638h-4zM360 613h4V629h-4zM368 618h4V629h-4zM376 623h4V629h-4zM384 627h4V629h-4zM392 629h4V630h-4zM400 629h4V632h-4zM408 629h4V634h-4zM416 629h4V637h-4zM424 629h4V638h-4zM432 629h4V638h-4zM440 629h4V639h-4zM496 628h4V629h-4zM504 629h4V634h-4zM512 629h4V640h-4zM520 629h4V643h-4zM528 629h4V646h-4zM592 587h4V629h-4zM600 600h4V629h-4zM608 614h4V629h-4zM616 626h4V629h-4zM624 629h4V633h-4zM632 629h4V635h-4zM640 629h4V637h-4zM648 629h4V642h-4zM656 629h4V647h-4zM664 629h4V654h-4zM672 629h4V660h-4zM680 629h4V666h-4zM688 629h4V668h-4zM760 629h4V630h-4zM768 629h4V633h-4zM808 625h4V629h-4zM816 626h4V629h-4zM832 626h4V629h-4zM848 624h4V629h-4zM856 626h4V629h-4zM864 626h4V629h-4zM880 629h4V633h-4zM888 629h4V634h-4zM936 614h4V629h-4zM944 624h4V629h-4zM952 629h4V633h-4zM960 629h4V636h-4zM984 629h4V636h-4z" fill="#ff0000"/></g>
<g id="gator" clip-path="url(#cpc)"><path d="M0 698h4V730h-4zM8 694h4V730h-4zM16 694h4V730h-4zM64 711h4V730h-4zM96 722h4V730h-4zM104 719h4V730h-4zM112 717h4V730h-4zM120 715h4V730h-4zM128 714h4V730h-4zM136 713h4V730h-4zM144 711h4V730h-4zM152 709h4V730h-4zM160 708h4V730h-4zM184 709h4V730h-4zM288 725h4V730h-4zM296 721h4V730h-4zM304 716h4V730h-4zM312 712h4V730h-4zM320 711h4V730h-4zM360 716h4V730h-4zM368 710h4V730h-4zM376 705h4V730h-4zM384 702h4V730h-4zM392 702h4V730h-4zM400 701h4V730h-4zM408 700h4V730h-4zM416 700h4V730h-4zM504 717h4V730h-4zM512 715h4V730h-4zM520 713h4V730h-4zM528 713h4V730h-4zM584 728h4V730h-4zM600 719h4V730h-4zM608 705h4V730h-4zM616 696h4V730h-4zM624 691h4V730h-4zM632 689h4V730h-4zM640 689h4V730h-4zM728 719h4V730h-4zM736 712h4V730h-4zM744 710h4V730h-4zM752 709h4V730h-4zM784 710h4V730h-4zM792 709h4V730h-4zM800 707h4V730h-4zM888 717h4V730h-4zM896 715h4V730h-4zM904 714h4V730h-4zM920 713h4V730h-4zM928 708h4V730h-4zM936 708h4V730h-4zM968 721h4V730h-4zM976 719h4V730h-4zM984 719h4V730h-4zM992 719h4V730h-4zM1000 718h4V730h-4zM1008 717h4V730h-4zM1016 716h4V730h-4zM1024 715h4V730h-4zM1032 714h4V730h-4zM1104 728h4V730h-4zM1112 723h4V730h-4zM1120 719h4V730h-4zM1128 714h4V730h-4zM1136 709h4V730h-4z" fill="#008000"/><path d="M24 694h4V730h-4zM32 698h4V730h-4zM40 703h4V730h-4zM48 709h4V730h-4zM56 712h4V730h-4zM72 715h4V730h-4zM80 724h4V730h-4zM88 727h4V730h-4zM168 708h4V730h-4zM176 709h4V730h-4zM192 709h4V730h-4zM200 711h4V730h-4zM208 714h4V730h-4zM216 714h4V730h-4zM224 714h4V730h-4zM232 715h4V730h-4zM240 718h4V730h-4zM248 720h4V730h-4zM256 723h4V730h-4zM264 725h4V730h-4zM272 727h4V730h-4zM280 727h4V730h-4zM328 712h4V730h-4zM336 714h4V730h-4zM344 718h4V730h-4zM352 718h4V730h-4zM424 700h4V730h-4zM432 702h4V730h-4zM440 704h4V730h-4zM448 705h4V730h-4zM456 708h4V730h-4zM464 710h4V730h-4zM472 711h4V730h-4zM480 713h4V730h-4zM488 715h4V730h-4zM496 717h4V730h-4zM536 716h4V730h-4zM544 720h4V730h-4zM552 724h4V730h-4zM560 725h4V730h-4zM568 726h4V730h-4zM576 729h4V730h-4zM592 729h4V730h-4zM648 689h4V730h-4zM656 691h4V730h-4zM664 692h4V730h-4zM672 693h4V730h-4zM680 696h4V730h-4zM688 701h4V730h-4zM696 709h4V730h-4zM704 717h4V730h-4zM712 724h4V730h-4zM720 727h4V730h-4zM760 710h4V730h-4zM768 711h4V730h-4zM776 711h4V730h-4zM808 708h4V730h-4zM816 709h4V730h-4zM824 711h4V730h-4zM832 713h4V730h-4zM840 714h4V730h-4zM848 715h4V730h-4zM856 715h4V730h-4zM864 717h4V730h-4zM872 718h4V730h-4zM880 719h4V730h-4zM912 716h4V730h-4zM944 715h4V730h-4zM952 722h4V730h-4zM960 724h4V730h-4zM1040 715h4V730h-4zM1048 715h4V730h-4zM1056 717h4V730h-4zM1064 719h4V730h-4zM1072 721h4V730h-4zM1080 725h4V730h-4zM1088 725h4V730h-4zM1096 729h4V730h-4z" fill="#ff0000"/><path d="M48 730h4V741h-4zM64 730h4V742h-4zM72 730h4V749h-4zM80 730h4V750h-4zM88 730h4V752h-4zM96 730h4V753h-4zM104 730h4V753h-4zM128 730h4V753h-4zM136 730h4V754h-4zM200 730h4V740h-4zM248 730h4V734h-4zM256 730h4V735h-4zM280 730h4V738h-4zM288 730h4V744h-4zM296 730h4V746h-4zM304 730h4V746h-4zM336 730h4V736h-4zM344 730h4V742h-4zM352 730h4V749h-4zM360 730h4V753h-4zM368 730h4V755h-4zM392 730h4V755h-4zM488 730h4V734h-4zM496 730h4V738h-4zM504 730h4V740h-4zM512 730h4V740h-4zM536 730h4V733h-4zM552 730h4V734h-4zM560 730h4V737h-4zM568 730h4V740h-4zM584 730h4V745h-4zM592 730h4V761h-4zM600 730h4V767h-4zM608 730h4V770h-4zM616 730h4V770h-4zM688 730h4V735h-4zM696 730h4V741h-4zM704 730h4V750h-4zM712 730h4V759h-4zM720 730h4V764h-4zM768 730h4V753h-4zM784 730h4V753h-4zM832 730h4V740h-4zM872 730h4V737h-4zM880 730h4V741h-4zM904 730h4V744h-4zM912 730h4V751h-4zM936 730h4V733h-4zM952 730h4V735h-4zM976 730h4V736h-4zM984 730h4V738h-4zM992 730h4V739h-4zM1000 730h4V740h-4zM1008 730h4V741h-4zM1016 730h4V742h-4zM1064 730h4V732h-4zM1080 730h4V735h-4zM1088 730h4V741h-4zM1096 730h4V744h-4zM1104 730h4V748h-4zM1112 730h4V753h-4zM1120 730h4V759h-4z" fill="#008000"/><path d="M0 730h4V766h-4zM8 730h4V759h-4zM16 730h4V754h-4zM24 730h4V746h-4zM32 730h4V738h-4zM40 730h4V737h-4zM56 730h4V733h-4zM112 730h4V753h-4zM120 730h4V752h-4zM144 730h4V752h-4zM152 730h4V750h-4zM160 730h4V749h-4zM168 730h4V748h-4zM176 730h4V747h-4zM184 730h4V743h-4zM192 730h4V739h-4zM208 730h4V740h-4zM216 730h4V737h-4zM224 730h4V734h-4zM232 730h4V732h-4zM240 730h4V731h-4zM264 730h4V733h-4zM272 730h4V731h-4zM312 730h4V744h-4zM320 730h4V740h-4zM328 730h4V735h-4zM376 730h4V754h-4zM384 730h4V754h-4zM400 730h4V754h-4zM408 730h4V752h-4zM416 730h4V749h-4zM424 730h4V747h-4zM432 730h4V745h-4zM440 730h4V742h-4zM448 730h4V739h-4zM456 730h4V738h-4zM464 730h4V736h-4zM472 730h4V734h-4zM480 730h4V732h-4zM520 730h4V735h-4zM528 730h4V731h-4zM544 730h4V732h-4zM576 730h4V733h-4zM624 730h4V768h-4zM632 730h4V766h-4zM640 730h4V763h-4zM648 730h4V759h-4zM656 730h4V758h-4zM664 730h4V753h-4zM672 730h4V744h-4zM680 730h4V734h-4zM728 730h4V761h-4zM736 730h4V760h-4zM744 730h4V757h-4zM752 730h4V753h-4zM760 730h4V752h-4zM776 730h4V752h-4zM792 730h4V750h-4zM800 730h4V746h-4zM808 730h4V745h-4zM816 730h4V741h-4zM824 730h4V739h-4zM840 730h4V738h-4zM848 730h4V736h-4zM856 730h4V735h-4zM864 730h4V733h-4zM888 730h4V739h-4zM896 730h4V737h-4zM920 730h4V746h-4zM928 730h4V733h-4zM944 730h4V731h-4zM960 730h4V735h-4zM968 730h4V734h-4zM1024 730h4V740h-4zM1032 730h4V739h-4zM1040 730h4V738h-4zM1048 730h4V734h-4zM1056 730h4V731h-4zM1072 730h4V731h-4z" fill="#ff0000"/></g>
<path d="M2 531.5H1227M2 629.5H1227M2 730.5H1227" stroke="#e0e0e0" stroke-width="1" stroke-dasharray="3 3" fill="none"/>
<path d="M2.5 2.5H1227.5V473.5H2.5zM2.5 475.5H1227.5V575.5H2.5zM2.5 577.5H1227.5V677.5H2.5zM2.5 679.5H1227.5V779.5H2.5z" stroke="#000" stroke-width="1" fill="none"/>
<path d="M1228 25h4v1h-4zM1228 57h4v1h-4zM1228 89h4v1h-4zM1228 121h4v1h-4zM1228 153h4v1h-4zM1228 185h4v1h-4zM1228 217h4v1h-4zM1228 249h4v1h-4zM1228 281h4v1h-4zM1228 313h4v1h-4zM1228 345h4v1h-4zM1228 377h4v1h-4zM1228 409h4v1h-4zM1228 441h4v1h-4zM1228 476h4v1h-4zM1228 574h4v1h-4zM1228 578h4v1h-4zM1228 676h4v1h-4zM1228 680h4v1h-4zM1228 778h4v1h-4zM2 780h1v4h-1zM66 780h1v4h-1zM130 780h1v4h-1zM194 780h1v4h-1zM258 780h1v4h-1zM322 780h1v4h-1zM386 780h1v4h-1zM450 780h1v4h-1zM514 780h1v4h-1zM578 780h1v4h-1zM642 780h1v4h-1zM706 780h1v4h-1zM770 780h1v4h-1zM834 780h1v4h-1zM898 780h1v4h-1zM962 780h1v4h-1zM1026 780h1v4h-1zM1090 780h1v4h-1z" fill="#000"/>
<rect x="1230" y="138" width="39" height="11" fill="#c80000"/>
<g id="labels" shape-rendering="geometricPrecision"><text transform="translate(1232.5 29) scale(0.9 1)" x="-0.00 5.55 11.11 16.66 22.50 25.55 31.11" fill="#000" stroke="#000" stroke-width="0.3">5990.50</text><text transform="translate(1232.5 61) scale(0.9 1)" x="-0.00 5.55 11.11 16.66 22.50 25.55 31.11" fill="#000" stroke="#000" stroke-width="0.3">5976.20</text><text transform="translate(1232.5 93) scale(0.9 1)" x="-0.00 5.55 11.11 16.66 22.50 25.55 31.11" fill="#000" stroke="#000" stroke-width="0.3">5961.90</text><text transform="translate(1232.5 125) scale(0.9 1)" x="-0.00 5.55 11.11 16.66 22.50 25.55 31.11" fill="#000" stroke="#000" stroke-width="0.3">5947.60</text><text transform="translate(1232.5 157) scale(0.9 1)" x="-0.00 5.55 11.11 16.66 22.50 25.55 31.11" fill="#000" stroke="#000" stroke-width="0.3">5933.30</text><text transform="translate(1232.5 189) scale(0.9 1)" x="-0.00 5.55 11.11 16.66 22.50 25.55 31.11" fill="#000" stroke="#000" stroke-width="0.3">5919.00</text><text transform="translate(1232.5 221) scale(0.9 1)" x="-0.00 5.55 11.11 16.66 22.50 25.55 31.11" fill="#000" stroke="#000" stroke-width="0.3">5904.70</text><text transform="translate(1232.5 253) scale(0.9 1)" x="-0.00 5.55 11.11 16.66 22.50 25.55 31.11" fill="#000" stroke="#000" stroke-width="0.3">5890.40</text><text transform="translate(1232.5 285) scale(0.9 1)" x="-0.00 5.55 11.11 16.66 22.50 25.55 31.11" fill="#000" stroke="#000" stroke-width="0.3">5876.10</text><text transform="translate(1232.5 317) scale(0.9 1)" x="-0.00 5.55 11.11 16.66 22.50 25.55 31.11" fill="#000" stroke="#000" stroke-width="0.3">5861.80</text><text transform="translate(1232.5 349) scale(0.9 1)" x="-0.00 5.55 11.11 16.66 22.50 25.55 31.11" fill="#000" stroke="#000" stroke-width="0.3">5847.50</text><text transform="translate(1232.5 381) scale(0.9 1)" x="-0.00 5.55 11.11 16.66 22.50 25.55 31.11" fill="#000" stroke="#000" stroke-width="0.3">5833.20</text><text transform="translate(1232.5 413) scale(0.9 1)" x="-0.00 5.55 11.11 16.66 22.50 25.55 31.11" fill="#000" stroke="#000" stroke-width="0.3">5818.90</text><text transform="translate(1232.5 445) scale(0.9 1)" x="-0.00 5.55 11.11 16.66 22.50 25.55 31.11" fill="#000" stroke="#000" stroke-width="0.3">5804.60</text><text transform="translate(1232.5 484) scale(0.9 1)" x="-0.00 5.55 11.39 14.44 20.00 25.55" fill="#000" stroke="#000" stroke-width="0.3">66.157</text><text transform="translate(1232.5 534) scale(0.9 1)" x="-0.00 5.83 8.89 14.44 20.00" fill="#000" stroke="#000" stroke-width="0.3">0.000</text><text transform="translate(1232.5 573) scale(0.9 1)" x="0.00 3.33 8.89 14.72 17.77 23.33 28.89" fill="#000" stroke="#000" stroke-width="0.3">-52.090</text><text transform="translate(1232.5 586) scale(0.9 1)" x="-0.00 5.55 11.39 14.44 20.00 25.55 31.11" fill="#000" stroke="#000" stroke-width="0.3">31.5538</text><text transform="translate(1232.5 632) scale(0.9 1)" x="-0.00 5.83 8.89 14.44 20.00 25.55" fill="#000" stroke="#000" stroke-width="0.3">0.0000</text><text transform="translate(1232.5 675) scale(0.9 1)" x="0.00 3.33 8.89 14.72 17.77 23.33 28.89 34.44" fill="#000" stroke="#000" stroke-width="0.3">-29.2151</text><text transform="translate(1232.5 688) scale(0.9 1)" x="-0.00 5.55 11.39 14.44 20.00 25.55" fill="#000" stroke="#000" stroke-width="0.3">32.959</text><text transform="translate(1232.5 733) scale(0.9 1)" x="-0.00 5.83 8.89 14.44 20.00" fill="#000" stroke="#000" stroke-width="0.3">0.000</text><text transform="translate(1232.5 777) scale(0.9 1)" x="0.00 3.33 8.89 14.72 17.77 23.33 28.89" fill="#000" stroke="#000" stroke-width="0.3">-31.806</text><text transform="translate(1.5 792) scale(0.9 1)" x="-0.00 5.55 11.39 14.72 23.33 29.72 35.83 38.89 44.44 50.00 55.55" fill="#000" stroke="#000" stroke-width="0.3">23 May 2025</text><text transform="translate(65.5 792) scale(0.9 1)" x="-0.00 5.55 11.39 14.72 23.33 29.72 35.83 38.89 44.44 50.28 53.33 58.89" fill="#000" stroke="#000" stroke-width="0.3">26 May 05:00</text><text transform="translate(129.5 792) scale(0.9 1)" x="-0.00 5.55 11.39 14.72 23.33 29.72 35.83 38.89 44.44 50.28 53.33 58.89" fill="#000" stroke="#000" stroke-width="0.3">26 May 13:00</text><text transform="translate(193.5 792) scale(0.9 1)" x="-0.00 5.55 11.39 14.72 23.33 29.72 35.83 38.89 44.44 50.28 53.33 58.89" fill="#000" stroke="#000" stroke-width="0.3">27 May 02:00</text><text transform="translate(257.5 792) scale(0.9 1)" x="-0.00 5.55 11.39 14.72 23.33 29.72 35.83 38.89 44.44 50.28 53.33 58.89" fill="#000" stroke="#000" stroke-width="0.3">27 May 10:00</text><text transform="translate(321.5 792) scale(0.9 1)" x="-0.00 5.55 11.39 14.72 23.33 29.72 35.83 38.89 44.44 50.28 53.33 58.89" fill="#000" stroke="#000" stroke-width="0.3">27 May 18:00</text><text transform="translate(385.5 792) scale(0.9 1)" x="-0.00 5.55 11.39 14.72 23.33 29.72 35.83 38.89 44.44 50.28 53.33 58.89" fill="#000" stroke="#000" stroke-width="0.3">28 May 03:00</text><text transform="translate(449.5 792) scale(0.9 1)" x="-0.00 5.55 11.39 14.72 23.33 29.72 35.83 38.89 44.44 50.28 53.33 58.89" fill="#000" stroke="#000" stroke-width="0.3">28 May 11:00</text><text transform="translate(513.5 792) scale(0.9 1)" x="-0.00 5.55 11.39 14.72 23.33 29.72 35.83 38.89 44.44 50.28 53.33 58.89" fill="#000" stroke="#000" stroke-width="0.3">28 May 19:00</text><text transform="translate(577.5 792) scale(0.9 1)" x="-0.00 5.55 11.39 14.72 23.33 29.72 35.83 38.89 44.44 50.28 53.33 58.89" fill="#000" stroke="#000" stroke-width="0.3">29 May 04:00</text><text transform="translate(641.5 792) scale(0.9 1)" x="-0.00 5.55 11.39 14.72 23.33 29.72 35.83 38.89 44.44 50.28 53.33 58.89" fill="#000" stroke="#000" stroke-width="0.3">29 May 12:00</text><text transform="translate(705.5 792) scale(0.9 1)" x="-0.00 5.55 11.39 14.72 23.33 29.72 35.83 38.89 44.44 50.28 53.33 58.89" fill="#000" stroke="#000" stroke-width="0.3">29 May 20:00</text><text transform="translate(769.5 792) scale(0.9 1)" x="-0.00 5.55 11.39 14.72 23.33 29.72 35.83 38.89 44.44 50.28 53.33 58.89" fill="#000" stroke="#000" stroke-width="0.3">30 May 05:00</text><text transform="translate(833.5 792) scale(0.9 1)" x="-0.00 5.55 11.39 14.72 23.33 29.72 35.83 38.89 44.44 50.28 53.33 58.89" fill="#000" stroke="#000" stroke-width="0.3">30 May 13:00</text><text transform="translate(897.5 792) scale(0.9 1)" x="-0.00 5.55 11.39 14.72 23.33 29.72 35.83 38.89 44.44 50.28 53.33 58.89" fill="#000" stroke="#000" stroke-width="0.3">30 May 21:00</text><text transform="translate(961.5 792) scale(0.9 1)" x="-0.00 5.83 8.89 13.89 19.44 25.28 28.33 33.89 39.72 42.77 48.33" fill="#000" stroke="#000" stroke-width="0.3">2 Jun 06:00</text><text transform="translate(1025.5 792) scale(0.9 1)" x="-0.00 5.83 8.89 13.89 19.44 25.28 28.33 33.89 39.72 42.77 48.33" fill="#000" stroke="#000" stroke-width="0.3">2 Jun 14:00</text><text transform="translate(1089.5 792) scale(0.9 1)" x="-0.00 5.83 8.89 13.89 19.44 25.28 28.33 33.89 39.72 42.77 48.33" fill="#000" stroke="#000" stroke-width="0.3">2 Jun 22:00</text><text transform="translate(1232.5 147) scale(0.9 1)" x="-0.00 5.55 11.11 16.66 22.50 25.55 31.11" fill="#fff" stroke="#fff" stroke-width="0.3">5937.84</text><text transform="translate(5.4 488) scale(0.9 1)" x="0.55 7.78 15.83 21.11 26.39 31.39 34.72 37.77 43.33 49.17 52.22 57.77 63.33" fill="#000" stroke="#000" stroke-width="0.3">AOcust 30.493</text><text transform="translate(5.4 590) scale(0.9 1)" x="0.55 8.06 15.83 21.11 26.39 31.39 34.72 37.77 43.33 49.17 52.22 57.77 63.33 68.89" fill="#000" stroke="#000" stroke-width="0.3">ACcust 13.7950</text><text transform="translate(5.4 692) scale(0.9 1)" x="0.56 8.89 14.72 17.77 23.33 26.94 34.44 39.72 44.72 48.06 51.11 56.66 62.50 65.55 71.11 76.66 82.50 85.56 88.89 94.44 100.28 103.33 108.89 114.44" fill="#000" stroke="#000" stroke-width="0.3">GatorCust 13.799 -18.801</text></g>
</svg>
</body></html>
